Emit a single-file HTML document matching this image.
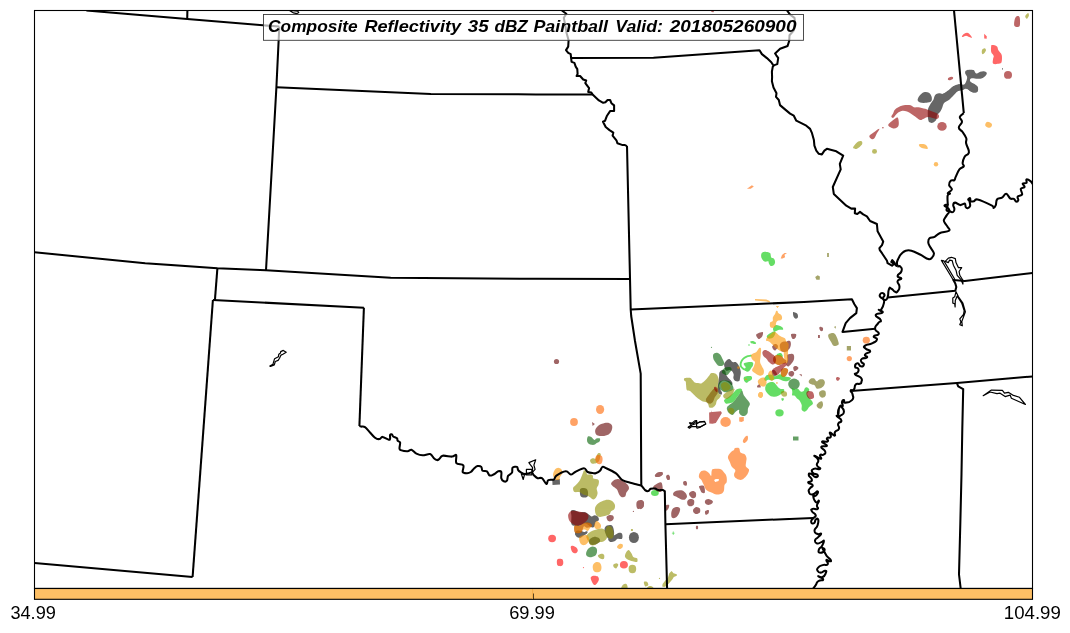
<!DOCTYPE html>
<html><head><meta charset="utf-8"><title>Composite Reflectivity 35 dBZ Paintball</title>
<style>
html,body{margin:0;padding:0;background:#fff;}
body{width:1070px;height:633px;overflow:hidden;font-family:"Liberation Sans",sans-serif;}
svg{display:block;position:absolute;left:0;top:0;}
svg text{font-family:"Liberation Sans",sans-serif;}
.st{fill:none;stroke:#000;stroke-width:2.05;stroke-linejoin:round;stroke-linecap:butt;}
.lk{fill:none;stroke:#000;stroke-width:1.2;stroke-linejoin:round;}
</style></head><body>
<svg width="1070" height="633" viewBox="0 0 1070 633">
<defs><clipPath id="ax"><rect x="34.5" y="10.5" width="998" height="578"/></clipPath></defs>
<rect x="0" y="0" width="1070" height="633" fill="#fff"/>

<g clip-path="url(#ax)">
<g fill="#000000" opacity="0.60">
<path d="M917.6,100.1C917.5,98.9 918.5,97.0 919.5,95.7C920.5,94.4 922.3,92.8 923.9,92.3C925.5,91.8 927.6,92.0 928.9,92.8C930.2,93.6 931.3,95.5 931.7,96.9C932.0,98.4 932.0,100.3 931.2,101.3C930.3,102.3 928.2,102.6 926.4,102.8C924.6,103.0 921.6,103.0 920.1,102.6C918.7,102.1 917.7,101.2 917.6,100.1Z"/>
<path d="M928.3,120.1C927.9,118.0 927.6,112.7 927.9,110.1C928.2,107.5 929.3,106.1 930.2,104.5C931.0,102.8 932.4,101.6 933.3,100.1C934.1,98.5 934.2,96.2 935.2,95.1C936.1,93.9 937.6,93.4 938.9,93.2C940.3,93.0 941.6,94.2 943.3,93.8C945.0,93.4 947.2,91.9 948.9,90.7C950.7,89.4 952.3,87.3 953.9,86.3C955.6,85.3 957.1,84.7 959.0,84.4C960.8,84.1 963.8,85.2 965.2,84.4C966.7,83.7 966.9,80.5 967.7,80.0C968.6,79.6 969.0,81.2 970.2,81.9C971.5,82.6 974.0,83.6 975.2,84.4C976.5,85.3 977.3,85.9 977.7,86.9C978.2,88.0 978.3,89.7 977.7,90.7C977.2,91.6 975.9,92.5 974.6,92.6C973.4,92.7 971.6,92.0 970.2,91.3C968.9,90.6 967.7,88.4 966.5,88.2C965.2,88.0 964.2,89.5 962.7,90.1C961.3,90.6 959.2,90.5 957.7,91.3C956.2,92.1 955.4,93.6 953.9,95.1C952.5,96.5 950.6,98.7 948.9,100.1C947.3,101.4 945.1,101.8 943.9,103.2C942.8,104.6 942.8,106.6 942.0,108.2C941.3,109.8 940.4,111.5 939.5,112.6C938.7,113.7 937.6,114.0 937.0,115.1C936.5,116.3 937.0,118.2 936.4,119.5C935.8,120.7 934.3,122.1 933.3,122.6C932.2,123.1 931.0,123.0 930.2,122.6C929.3,122.2 928.6,122.2 928.3,120.1Z"/>
<path d="M945.6,92.3C947.2,91.2 948.1,90.5 949.3,89.5C950.6,88.5 951.7,87.1 953.1,86.3C954.5,85.4 956.2,84.6 957.8,84.4C959.3,84.2 961.3,84.9 962.4,84.9C963.6,84.8 964.1,84.7 964.8,83.9C965.5,83.1 966.2,81.4 966.6,80.2C967.0,79.0 967.3,78.0 967.1,76.9C966.9,75.8 965.5,74.7 965.2,73.6C965.0,72.6 965.1,71.5 965.7,70.8C966.3,70.2 967.6,69.8 969.0,69.7C970.3,69.6 972.6,69.7 973.6,70.1C974.7,70.5 974.5,71.7 975.0,72.2C975.6,72.8 976.1,73.7 976.9,73.6C977.8,73.6 979.0,72.2 980.2,71.8C981.4,71.4 982.8,71.2 983.9,71.3C985.0,71.5 986.4,72.0 986.7,72.7C987.0,73.4 986.6,74.6 985.8,75.5C985.0,76.4 983.5,77.8 982.1,78.3C980.7,78.9 979.1,78.8 977.4,78.8C975.7,78.8 973.0,78.1 971.8,78.3C970.5,78.6 969.9,79.4 969.9,80.2C969.9,81.0 970.5,81.9 971.8,83.0C973.0,84.1 976.4,85.4 977.4,86.7C978.4,88.1 978.2,90.0 977.9,90.9C977.5,91.9 976.5,92.4 975.5,92.5C974.5,92.7 973.2,92.4 971.8,91.9C970.4,91.3 968.3,89.6 967.1,89.1C965.9,88.5 965.2,88.4 964.3,88.6C963.4,88.8 962.7,89.5 961.5,90.0C960.2,90.5 958.1,90.7 956.8,91.4C955.6,92.1 955.0,93.3 954.0,94.2C953.1,95.1 952.1,96.1 951.2,97.0C950.3,97.9 950.0,99.3 948.4,99.8C946.9,100.3 943.3,100.4 941.9,99.8C940.5,99.2 939.4,97.3 940.0,96.1C940.6,94.8 944.0,93.4 945.6,92.3Z"/>
<ellipse cx="1002.5" cy="68.9" rx="0.5" ry="0.8"/>
<path d="M793.1,312.1C793.4,311.5 794.4,312.3 795.1,312.6C795.9,312.9 797.0,313.2 797.5,314.0C797.9,314.8 798.2,316.5 797.9,317.3C797.7,318.1 796.6,318.8 795.9,318.7C795.1,318.5 793.9,317.4 793.5,316.4C793.0,315.3 792.8,312.8 793.1,312.1Z"/>
<path d="M724.2,363.8C724.6,362.6 726.1,360.9 727.0,360.1C727.9,359.3 728.9,358.8 729.8,359.2C730.7,359.5 731.5,361.4 732.6,362.0C733.7,362.5 735.3,361.7 736.4,362.4C737.4,363.1 738.4,364.6 739.2,366.2C739.9,367.7 740.7,369.9 740.8,371.8C741.0,373.6 740.4,375.8 740.1,377.4C739.8,378.9 739.9,380.5 739.2,381.1C738.4,381.7 736.4,381.6 735.4,381.1C734.5,380.7 733.6,379.4 733.4,378.3C733.1,377.2 733.9,375.7 733.7,374.6C733.5,373.4 732.8,372.1 732.1,371.3C731.5,370.5 730.8,370.0 729.8,369.9C728.8,369.8 726.9,371.2 726.1,370.8C725.2,370.5 725.0,368.7 724.7,367.6C724.4,366.4 723.8,365.1 724.2,363.8Z"/>
<path d="M719.5,372.2C720.1,371.2 721.4,370.1 722.3,369.9C723.3,369.7 724.5,370.1 725.1,370.8C725.8,371.6 725.6,373.5 726.1,374.6C726.5,375.7 727.2,376.4 727.9,377.4C728.7,378.3 730.0,379.3 730.7,380.2C731.5,381.1 732.3,382.1 732.4,383.0C732.6,383.8 732.4,385.5 731.7,385.3C730.9,385.2 729.2,382.8 727.9,382.1C726.7,381.3 725.4,380.7 724.2,380.7C723.0,380.7 721.8,381.0 720.9,382.1C720.1,383.1 718.9,385.0 719.1,386.7C719.2,388.4 721.5,391.0 721.9,392.3C722.2,393.7 721.8,394.5 721.2,394.7C720.7,394.8 719.2,394.1 718.6,393.3C718.0,392.4 717.7,391.4 717.7,389.5C717.6,387.7 718.2,384.2 718.4,382.1C718.6,379.9 718.9,378.1 719.1,376.4C719.3,374.8 719.0,373.3 719.5,372.2Z"/>
<path d="M552.3,480.1L559.8,478.9L560.0,484.5L552.5,484.9Z"/>
<path d="M580.1,489.3C580.5,488.0 582.0,488.0 583.1,487.9C584.2,487.9 586.0,488.2 586.8,488.9C587.7,489.6 587.8,490.9 588.0,492.1C588.1,493.4 588.2,495.5 587.6,496.4C586.9,497.3 585.2,497.6 584.0,497.6C582.9,497.5 581.1,497.4 580.5,496.1C579.8,494.7 579.7,490.7 580.1,489.3Z"/>
<path d="M571.4,516.0C571.3,513.8 570.6,511.8 571.0,510.8C571.3,509.9 572.4,509.9 573.8,510.1C575.2,510.3 577.5,511.9 579.4,512.2C581.2,512.6 583.5,511.9 585.0,512.2C586.5,512.6 587.2,513.4 588.2,514.1C589.3,514.8 590.4,516.2 591.5,516.4C592.6,516.7 593.7,515.2 594.8,515.3C595.9,515.4 597.4,516.1 598.1,516.9C598.7,517.7 599.2,519.3 598.8,520.2C598.4,521.0 596.5,521.0 595.7,522.1C595.0,523.1 595.0,525.9 594.3,526.7C593.6,527.6 592.8,527.7 591.5,527.2C590.3,526.7 588.2,524.5 586.8,523.9C585.4,523.4 584.3,523.6 583.1,523.9C581.9,524.2 580.8,525.5 579.4,525.8C578.0,526.1 576.0,526.1 574.7,525.8C573.4,525.5 572.0,525.6 571.4,523.9C570.9,522.3 571.5,518.2 571.4,516.0Z"/>
<path d="M575.2,532.3C575.5,531.6 576.5,530.7 577.5,530.5C578.5,530.2 580.0,530.6 581.2,530.9C582.5,531.2 584.0,531.9 585.0,532.3C585.9,532.8 587.2,533.3 586.8,533.7C586.5,534.2 584.0,534.5 583.1,535.1C582.2,535.8 582.1,537.1 581.2,537.5C580.4,537.8 578.9,537.6 578.0,537.2C577.0,536.8 576.1,536.0 575.6,535.1C575.2,534.3 574.8,533.1 575.2,532.3Z"/>
<ellipse cx="633.9" cy="537.5" rx="5.0" ry="5.6"/>
<path d="M608.3,538.8C608.9,537.7 612.1,536.6 613.9,535.6C615.7,534.6 617.5,533.1 618.9,532.8C620.3,532.5 621.5,532.8 622.0,533.8C622.6,534.8 622.8,537.9 622.0,538.8C621.3,539.6 618.9,538.4 617.6,538.8C616.4,539.2 615.8,540.8 614.5,541.3C613.3,541.8 611.2,542.3 610.1,541.9C609.1,541.5 607.6,539.8 608.3,538.8Z"/>
<path d="M589.5,539.4C590.2,538.4 592.3,537.1 593.9,536.9C595.4,536.7 597.8,537.4 598.9,538.1C599.9,538.9 600.4,540.3 600.1,541.3C599.8,542.2 598.2,543.2 597.0,543.8C595.7,544.4 593.9,545.1 592.6,545.0C591.3,544.9 590.0,544.1 589.5,543.2C588.9,542.2 588.7,540.4 589.5,539.4Z"/>
<path d="M604.5,529.4C604.5,527.5 605.7,526.3 607.0,525.6C608.3,525.0 610.9,524.8 612.0,525.6C613.2,526.5 613.6,528.8 613.9,530.6C614.2,532.5 614.3,535.5 613.6,536.9C613.0,538.3 611.2,539.0 610.1,539.0C609.0,539.0 607.9,538.5 607.0,536.9C606.1,535.3 604.5,531.3 604.5,529.4Z"/>
<path d="M575.1,533.8C575.2,532.9 576.3,532.1 577.6,531.9C578.8,531.7 581.1,532.9 582.6,532.8C584.0,532.7 585.5,531.3 586.3,531.3C587.2,531.2 588.0,531.8 587.6,532.5C587.2,533.2 585.1,534.8 583.8,535.6C582.6,536.5 581.2,537.3 580.1,537.5C578.9,537.7 577.8,537.5 576.9,536.9C576.1,536.3 575.0,534.6 575.1,533.8Z"/>
</g>
<g fill="#610000" opacity="0.60">
<path d="M756.1,334.8C756.4,333.7 759.0,332.9 760.1,332.5C761.2,332.1 762.5,331.7 762.9,332.2C763.3,332.8 762.9,334.9 762.4,336.0C762.0,337.0 760.8,338.0 760.1,338.5C759.4,339.0 758.9,339.4 758.2,338.8C757.6,338.2 755.8,335.8 756.1,334.8Z"/>
<path d="M791.2,334.1C791.9,333.5 795.1,333.6 795.9,334.1C796.7,334.6 796.2,336.1 795.9,336.9C795.5,337.7 794.4,338.9 793.7,339.1C793.1,339.2 792.3,338.7 791.9,337.9C791.4,337.0 790.5,334.7 791.2,334.1Z"/>
<path d="M786.7,341.6C787.3,340.7 789.3,340.7 790.0,341.1C790.7,341.5 790.9,342.8 790.9,343.9C790.9,345.0 790.5,346.7 790.0,347.7C789.5,348.6 788.7,349.7 788.1,349.5C787.6,349.4 787.0,348.1 786.7,346.7C786.5,345.4 786.2,342.5 786.7,341.6Z"/>
<path d="M772.2,346.3C772.5,345.8 773.5,345.2 774.1,345.8C774.7,346.3 775.9,348.8 776.0,349.5C776.1,350.3 775.1,350.6 774.6,350.5C774.0,350.3 773.1,349.3 772.7,348.6C772.3,347.9 772.0,346.7 772.2,346.3Z"/>
<path d="M819.3,327.6C819.4,326.9 820.7,326.8 821.3,326.9C821.9,327.0 822.8,327.4 823.0,328.0C823.2,328.7 823.1,330.2 822.7,330.7C822.3,331.1 821.0,331.4 820.4,330.8C819.8,330.3 819.1,328.2 819.3,327.6Z"/>
<path d="M818.0,335.0L819.9,335.0L819.9,337.9L818.0,337.9Z"/>
<path d="M780.2,343.9C780.8,342.9 782.7,341.8 783.9,341.6C785.2,341.4 786.9,341.7 787.7,342.5C788.4,343.4 788.6,345.3 788.6,346.7C788.6,348.1 788.4,350.1 787.7,350.9C786.9,351.8 785.0,351.9 783.9,351.9C782.8,351.9 781.8,351.6 781.1,350.9C780.5,350.2 780.2,348.8 780.0,347.7C779.8,346.5 779.5,344.9 780.2,343.9Z"/>
<path d="M773.2,344.9C773.6,344.2 775.2,343.8 776.0,343.9C776.8,344.1 777.6,345.0 777.9,345.8C778.1,346.6 777.8,348.0 777.4,348.6C777.0,349.2 776.1,349.7 775.5,349.5C774.9,349.4 774.0,348.4 773.6,347.7C773.3,346.9 772.8,345.5 773.2,344.9Z"/>
<path d="M787.2,355.1C787.7,354.1 789.4,354.0 790.5,353.9C791.6,353.8 793.1,353.8 793.7,354.7C794.3,355.6 794.3,357.9 794.0,359.3C793.7,360.7 792.8,361.9 791.9,363.1C791.0,364.3 789.5,366.0 788.6,366.4C787.7,366.7 786.5,366.0 786.3,365.0C786.0,363.9 787.0,361.9 787.2,360.3C787.4,358.6 786.7,356.2 787.2,355.1Z"/>
<path d="M793.3,367.3C793.6,366.5 795.2,366.0 796.1,366.1C796.9,366.2 798.3,367.1 798.4,367.8C798.6,368.4 797.7,369.5 797.0,370.1C796.3,370.6 794.8,371.5 794.2,371.0C793.6,370.6 793.0,368.1 793.3,367.3Z"/>
<path d="M789.1,372.0C789.7,371.3 791.5,370.9 792.3,371.0C793.2,371.2 794.0,372.1 794.2,372.9C794.4,373.7 793.8,375.1 793.3,375.7C792.7,376.3 791.7,376.8 790.9,376.6C790.2,376.5 788.9,375.5 788.6,374.8C788.3,374.0 788.4,372.6 789.1,372.0Z"/>
<path d="M799.1,374.1L801.9,374.5L801.7,376.6Z"/>
<path d="M757.0,386.0L759.2,384.1L760.7,386.0L760.7,387.6L757.3,387.6Z"/>
<path d="M773.2,358.4C773.5,357.4 774.5,356.2 775.5,355.6C776.5,355.1 778.2,355.0 779.3,355.1C780.3,355.3 781.3,355.9 782.1,356.5C782.8,357.2 783.2,358.3 783.9,358.9C784.6,359.5 786.0,359.6 786.3,360.3C786.6,361.0 786.5,362.5 785.8,363.1C785.1,363.7 783.1,363.7 782.1,364.0C781.0,364.3 780.3,365.0 779.3,365.0C778.2,365.0 776.9,364.6 776.0,364.0C775.0,363.5 774.1,362.6 773.6,361.7C773.2,360.7 772.9,359.4 773.2,358.4Z"/>
<path d="M771.8,371.0C772.1,370.2 773.3,369.9 774.1,370.1C774.9,370.3 776.0,371.7 776.4,372.4C776.9,373.2 777.2,374.1 776.9,374.8C776.6,375.4 775.4,376.2 774.6,376.2C773.8,376.2 772.7,375.6 772.2,374.8C771.8,373.9 771.5,371.8 771.8,371.0Z"/>
<path d="M781.1,370.1C781.6,368.9 782.9,368.5 783.9,368.2C784.9,368.0 786.5,368.2 787.2,368.7C787.9,369.2 788.3,369.9 788.1,371.0C788.0,372.1 787.0,374.2 786.3,375.2C785.5,376.2 784.3,377.1 783.5,377.1C782.6,377.1 781.5,376.4 781.1,375.2C780.7,374.1 780.7,371.3 781.1,370.1Z"/>
<path d="M706.0,399.0C706.4,397.7 708.2,395.8 709.3,394.3C710.3,392.9 711.6,391.2 712.5,390.1C713.5,389.1 714.1,388.3 714.9,388.3C715.6,388.2 716.7,388.9 717.2,389.7C717.7,390.5 718.1,391.7 717.7,392.9C717.3,394.2 715.6,395.7 714.9,397.1C714.1,398.6 713.8,400.7 713.0,401.8C712.2,402.9 711.2,403.6 710.2,403.7C709.2,403.8 707.6,403.1 706.9,402.3C706.2,401.5 705.6,400.3 706.0,399.0Z"/>
<path d="M655.0,475.0C655.4,474.3 657.0,473.0 658.2,472.5C659.3,472.0 661.2,471.9 661.9,472.3C662.6,472.6 663.0,473.7 662.5,474.4C662.1,475.1 660.6,476.1 659.4,476.5C658.3,476.9 656.4,477.1 655.7,476.9C654.9,476.6 654.6,475.7 655.0,475.0Z"/>
<path d="M666.3,476.3C666.5,475.6 667.6,474.9 668.2,475.0C668.8,475.1 669.6,476.1 669.8,476.9C670.0,477.7 669.9,479.4 669.4,479.8C669.0,480.1 667.4,479.6 666.9,479.0C666.4,478.4 666.1,476.9 666.3,476.3Z"/>
<path d="M683.2,481.9C683.5,481.2 685.1,480.8 685.7,481.0C686.3,481.2 686.9,482.4 687.0,483.1C687.1,483.9 686.9,485.3 686.3,485.7C685.8,486.0 684.4,485.7 683.8,485.0C683.3,484.4 682.9,482.6 683.2,481.9Z"/>
<path d="M653.1,486.9C653.7,485.8 656.8,483.9 658.2,483.1C659.5,482.4 660.6,482.0 661.3,482.5C662.0,483.0 662.4,484.9 662.5,486.3C662.7,487.6 662.9,489.7 662.3,490.7C661.7,491.6 660.0,492.0 658.8,491.9C657.6,491.8 656.0,490.9 655.0,490.0C654.1,489.2 652.6,488.1 653.1,486.9Z"/>
<path d="M673.2,493.2C673.6,492.3 675.0,491.1 676.3,490.7C677.7,490.2 679.9,490.0 681.3,490.3C682.8,490.6 684.1,491.5 685.1,492.5C686.0,493.5 687.0,495.2 687.0,496.3C687.0,497.4 686.0,498.9 685.1,499.4C684.1,500.0 682.7,499.8 681.3,499.4C680.0,499.0 678.2,497.6 676.9,496.9C675.7,496.3 674.4,496.3 673.8,495.7C673.2,495.0 672.8,494.0 673.2,493.2Z"/>
<path d="M689.1,493.2C689.5,492.3 691.5,491.1 692.6,491.0C693.7,490.9 695.2,491.6 695.7,492.5C696.3,493.5 696.3,496.0 695.7,496.9C695.2,497.9 693.5,498.3 692.6,498.2C691.7,498.1 690.7,497.1 690.1,496.3C689.5,495.5 688.7,494.0 689.1,493.2Z"/>
<path d="M699.1,486.3C699.7,485.7 702.9,485.0 703.9,486.0C704.8,487.1 705.2,491.4 704.9,492.5C704.6,493.7 702.8,493.3 702.0,492.8C701.2,492.3 700.6,490.5 700.1,489.4C699.6,488.3 698.5,486.8 699.1,486.3Z"/>
<path d="M687.3,501.3C687.7,500.3 689.0,499.3 690.1,499.1C691.2,498.8 693.2,499.2 693.9,500.1C694.5,501.0 694.4,503.4 693.9,504.4C693.3,505.5 691.7,506.2 690.7,506.3C689.7,506.4 688.4,505.9 687.8,505.1C687.3,504.2 687.0,502.3 687.3,501.3Z"/>
<path d="M705.1,500.7C705.6,499.9 707.0,499.0 708.3,499.1C709.5,499.1 712.0,500.3 712.6,501.1C713.3,501.8 712.7,502.9 712.0,503.6C711.3,504.2 709.4,505.1 708.3,505.1C707.1,505.1 705.9,504.3 705.4,503.6C704.9,502.8 704.6,501.4 705.1,500.7Z"/>
<path d="M693.2,509.4C693.7,508.5 695.2,507.1 696.4,506.9C697.5,506.8 699.3,507.6 699.9,508.6C700.4,509.5 700.4,511.7 699.9,512.6C699.3,513.5 697.4,514.1 696.4,514.1C695.3,514.1 694.1,513.4 693.6,512.6C693.1,511.8 692.8,510.4 693.2,509.4Z"/>
<path d="M705.1,511.3C705.6,510.5 708.0,509.8 708.6,510.1C709.2,510.4 709.1,512.4 708.6,513.2C708.1,514.0 706.3,515.1 705.7,514.8C705.2,514.5 704.6,512.1 705.1,511.3Z"/>
<path d="M671.3,512.6C671.5,511.0 672.1,509.1 673.2,508.2C674.2,507.3 676.4,506.8 677.6,506.9C678.7,507.0 679.9,507.7 680.1,508.8C680.3,510.0 679.6,512.4 678.8,513.8C678.1,515.3 676.8,517.0 675.7,517.6C674.5,518.2 672.7,518.4 671.9,517.6C671.2,516.8 671.1,514.1 671.3,512.6Z"/>
<path d="M665.7,505.7C666.1,504.8 668.6,504.6 669.1,505.1C669.5,505.5 669.0,507.3 668.6,508.2C668.1,509.1 666.8,511.1 666.3,510.7C665.8,510.3 665.2,506.6 665.7,505.7Z"/>
<path d="M640.0,500.7C640.4,499.3 641.8,500.2 642.5,500.7C643.2,501.2 643.9,502.4 644.0,503.6C644.1,504.7 643.8,506.7 643.1,507.6C642.5,508.4 640.5,510.0 640.0,508.8C639.5,507.7 639.6,502.0 640.0,500.7Z"/>
<path d="M696.1,526.1C696.4,525.6 697.6,525.6 697.9,526.1C698.2,526.6 698.2,528.4 697.9,528.9C697.6,529.3 696.4,529.3 696.1,528.9C695.8,528.4 695.8,526.6 696.1,526.1Z"/>
<ellipse cx="556.5" cy="361.5" rx="2.6" ry="2.6"/>
<path d="M592.0,422.0L594.9,423.9L592.6,426.1Z"/>
<path d="M595.1,431.3C595.1,429.9 595.8,428.1 597.0,426.9C598.1,425.6 600.1,424.4 602.0,423.8C603.9,423.1 606.6,422.4 608.3,422.8C609.9,423.1 611.4,424.3 612.0,425.6C612.6,427.0 612.2,429.2 611.6,430.6C611.1,432.1 610.1,433.5 608.6,434.4C607.1,435.3 604.6,435.9 602.6,436.0C600.7,436.2 598.2,436.1 597.0,435.3C595.7,434.5 595.1,432.7 595.1,431.3Z"/>
<path d="M611.1,483.9C611.0,482.8 612.2,481.5 613.3,480.7C614.3,479.9 616.3,479.2 617.6,479.1C619.0,479.0 620.2,479.5 621.4,480.1C622.7,480.7 624.0,481.7 625.2,482.6C626.3,483.6 627.7,484.7 628.3,485.7C628.9,486.8 629.2,487.7 628.9,488.9C628.6,490.0 627.0,491.4 626.4,492.6C625.8,493.9 626.0,495.7 625.2,496.4C624.3,497.1 622.4,497.4 621.4,497.0C620.4,496.6 619.6,495.1 618.9,493.9C618.2,492.6 617.9,490.7 617.0,489.5C616.2,488.4 614.9,487.9 613.9,487.0C612.9,486.1 611.2,484.9 611.1,483.9Z"/>
<path d="M655.2,475.1C655.4,474.4 656.6,473.1 657.7,472.6C658.9,472.1 661.3,471.7 662.1,472.0C662.9,472.3 663.0,473.7 662.7,474.5C662.4,475.2 661.3,475.9 660.2,476.4C659.2,476.8 657.3,477.2 656.5,477.0C655.6,476.8 655.0,475.8 655.2,475.1Z"/>
<path d="M666.5,475.7C666.7,474.9 668.5,474.6 669.0,475.1C669.5,475.6 669.9,478.1 669.6,478.9C669.4,479.7 668.0,480.4 667.5,479.9C667.0,479.3 666.2,476.5 666.5,475.7Z"/>
<path d="M636.4,503.4C636.5,502.0 637.4,501.1 638.2,500.6C639.1,500.0 640.6,499.9 641.5,500.1C642.4,500.3 643.5,501.0 643.9,502.0C644.2,503.0 644.1,505.1 643.7,506.2C643.2,507.3 642.1,508.1 641.0,508.5C640.0,508.9 638.1,509.4 637.3,508.5C636.5,507.6 636.2,504.7 636.4,503.4Z"/>
<path d="M606.5,516.9C606.7,515.9 608.7,515.3 609.7,515.0C610.8,514.8 612.2,515.0 612.8,515.5C613.5,516.1 614.0,517.4 613.8,518.3C613.6,519.3 612.5,520.7 611.6,521.1C610.7,521.6 609.2,521.8 608.3,521.1C607.5,520.4 606.2,517.9 606.5,516.9Z"/>
<ellipse cx="633.4" cy="511.4" rx="0.6" ry="0.6"/>
<path d="M574.2,526.7C574.5,525.6 575.2,525.5 576.1,525.3C577.0,525.2 578.2,526.1 579.4,525.8C580.5,525.5 581.9,524.0 583.1,523.5C584.3,522.9 585.6,522.5 586.8,522.5C588.1,522.5 589.7,522.9 590.6,523.5C591.4,524.0 592.1,525.2 592.0,525.8C591.9,526.4 591.0,526.9 590.1,527.2C589.3,527.5 587.9,527.8 586.8,527.7C585.8,527.5 584.7,526.0 584.0,526.3C583.3,526.6 583.1,528.5 582.6,529.5C582.2,530.6 582.1,531.9 581.2,532.5C580.4,533.1 578.6,533.4 577.5,533.3C576.4,533.2 575.2,533.0 574.7,531.9C574.1,530.8 574.0,527.8 574.2,526.7Z"/>
</g>
<g fill="#006100" opacity="0.60">
<ellipse cx="794.0" cy="384.1" rx="5.8" ry="5.6"/>
<path d="M713.0,356.4C713.0,355.3 713.1,354.4 713.9,353.8C714.7,353.3 716.6,352.7 717.7,352.9C718.8,353.1 719.6,353.8 720.5,355.0C721.3,356.1 722.2,358.2 722.8,359.6C723.4,361.0 724.3,362.4 724.2,363.4C724.1,364.4 723.3,365.3 722.3,365.7C721.4,366.1 719.6,366.1 718.6,365.7C717.6,365.3 717.0,364.3 716.3,363.4C715.5,362.4 714.5,361.3 713.9,360.1C713.4,358.9 713.0,357.4 713.0,356.4Z"/>
<path d="M721.9,371.8C722.1,370.7 723.8,368.3 725.1,367.6C726.5,366.8 728.7,366.8 729.8,367.1C730.9,367.4 731.7,368.6 731.7,369.4C731.7,370.3 730.6,371.3 729.8,372.2C729.0,373.2 728.0,374.7 727.0,375.0C726.0,375.4 724.6,374.7 723.7,374.1C722.9,373.6 721.6,372.9 721.9,371.8Z"/>
<path d="M718.6,383.9C718.9,382.7 719.8,381.7 720.9,381.1C722.0,380.5 723.7,380.1 725.1,380.2C726.6,380.3 728.6,380.8 729.8,381.6C731.0,382.4 731.8,383.7 732.4,384.9C733.1,386.0 733.7,387.7 733.6,388.6C733.4,389.5 732.9,389.8 731.7,390.5C730.4,391.1 727.6,392.3 726.1,392.3C724.5,392.4 723.5,391.6 722.3,390.9C721.2,390.3 719.7,389.8 719.1,388.6C718.4,387.4 718.3,385.2 718.6,383.9Z"/>
<ellipse cx="711.5" cy="347.3" rx="0.6" ry="0.6"/>
<path d="M727.0,407.4C727.4,406.5 728.7,405.6 729.8,404.6C730.9,403.7 732.5,402.9 733.6,401.8C734.6,400.7 735.4,399.3 736.4,398.1C737.3,396.8 738.2,395.6 739.2,394.3C740.1,393.1 741.2,390.5 742.0,390.6C742.7,390.8 743.1,393.9 743.8,395.3C744.6,396.7 745.6,397.6 746.6,399.0C747.6,400.4 749.7,402.1 749.9,403.7C750.1,405.2 748.4,406.8 748.0,408.4C747.6,409.9 748.1,411.8 747.6,413.0C747.0,414.3 745.8,415.5 744.8,415.8C743.8,416.2 742.4,415.8 741.5,415.4C740.6,414.9 739.6,414.0 739.2,413.0C738.7,412.1 739.6,409.9 739.0,409.8C738.3,409.6 736.5,411.2 735.4,412.1C734.4,413.0 733.7,414.8 732.6,414.9C731.5,415.1 729.8,413.8 728.9,413.0C728.0,412.3 727.5,411.2 727.2,410.2C726.9,409.3 726.6,408.4 727.0,407.4Z"/>
<path d="M793.0,436.5L798.5,436.5L798.5,440.5L793.0,440.5Z"/>
<path d="M587.0,439.4C587.1,438.4 587.5,436.7 588.2,436.3C588.9,435.9 590.3,436.3 591.3,436.9C592.4,437.5 593.6,439.8 594.5,440.0C595.3,440.3 595.5,438.8 596.4,438.5C597.3,438.3 599.3,438.0 599.9,438.5C600.4,439.0 600.1,440.8 599.5,441.5C598.9,442.3 597.3,442.6 596.4,443.2C595.5,443.7 595.1,444.6 594.1,444.8C593.1,445.0 591.2,444.8 590.1,444.4C589.0,444.0 588.1,443.4 587.6,442.5C587.1,441.7 586.9,440.5 587.0,439.4Z"/>
<path d="M586.1,553.2C586.3,552.0 587.1,549.9 588.2,548.8C589.3,547.7 591.2,546.6 592.6,546.5C594.0,546.4 595.6,547.3 596.4,548.2C597.1,549.1 597.2,550.7 597.0,551.9C596.8,553.2 596.3,554.8 595.1,555.7C594.0,556.6 591.5,557.2 590.1,557.3C588.7,557.4 587.6,556.7 587.0,556.1C586.3,555.4 585.9,554.4 586.1,553.2Z"/>
</g>
<g fill="#00c800" opacity="0.60">
<path d="M761.1,255.7C761.1,254.6 761.4,253.1 762.3,252.5C763.2,251.9 765.0,251.8 766.3,251.9C767.6,252.0 769.2,252.2 770.1,253.1C770.9,254.1 770.7,256.6 771.3,257.5C772.0,258.4 773.2,257.8 773.8,258.5C774.5,259.3 775.1,260.8 775.1,261.9C775.1,263.0 774.6,264.4 773.8,265.0C773.1,265.7 771.5,266.4 770.7,266.0C769.9,265.7 769.2,264.0 768.8,263.2C768.4,262.4 768.9,261.6 768.2,261.3C767.5,261.0 765.5,262.0 764.4,261.5C763.4,261.1 762.5,259.8 761.9,258.8C761.4,257.8 761.0,256.7 761.1,255.7Z"/>
<path d="M773.2,328.0C773.5,327.1 774.5,325.6 775.5,325.2C776.5,324.8 778.1,325.3 779.3,325.7C780.4,326.1 781.9,326.9 782.5,327.6C783.1,328.2 783.5,329.4 783.0,329.7C782.4,330.1 780.5,329.5 779.3,329.7C778.0,330.0 776.5,331.1 775.5,331.3C774.5,331.5 773.8,331.4 773.5,330.8C773.1,330.3 772.8,329.0 773.2,328.0Z"/>
<path d="M767.1,335.5C767.8,334.5 770.5,332.9 771.8,332.2C773.1,331.5 774.5,331.1 775.0,331.3C775.6,331.5 775.6,332.7 775.3,333.6C775.1,334.6 774.4,336.1 773.6,336.9C772.9,337.7 771.9,338.3 770.8,338.5C769.8,338.7 768.2,338.8 767.6,338.3C766.9,337.8 766.4,336.5 767.1,335.5Z"/>
<path d="M750.1,341.6C750.3,341.2 752.1,340.8 753.1,340.9C754.0,341.1 755.5,342.0 755.9,342.5C756.3,343.0 756.1,343.8 755.4,343.9C754.7,344.1 752.6,343.8 751.7,343.5C750.8,343.1 749.9,342.0 750.1,341.6Z"/>
<ellipse cx="749.0" cy="345.0" rx="0.8" ry="0.8"/>
<path d="M743.8,363.4C744.4,362.9 746.1,362.4 747.6,362.2C749.0,362.1 751.8,361.9 752.7,362.4C753.6,362.9 753.2,364.3 753.0,365.2C752.8,366.2 751.9,367.1 751.3,368.0C750.7,369.0 750.1,370.2 749.4,370.8C748.7,371.5 747.9,372.0 747.1,371.8C746.3,371.6 745.0,370.5 744.8,369.7C744.5,368.9 745.8,367.9 745.7,367.1C745.6,366.4 744.6,365.9 744.3,365.2C744.0,364.6 743.3,363.9 743.8,363.4Z"/>
<path d="M750.8,355.7C750.1,355.9 748.0,356.1 746.6,356.6C745.3,357.2 743.9,358.1 742.9,359.2C741.9,360.2 741.2,361.7 740.8,362.9C740.5,364.1 740.5,365.2 740.8,366.2C741.2,367.1 742.1,367.9 742.9,368.5C743.7,369.2 745.4,369.8 745.9,370.1" fill="none" stroke="#00cb00" stroke-width="1.9" stroke-linecap="round"/>
<path d="M744.2,378.0C744.7,377.3 746.4,376.9 747.5,376.6C748.6,376.3 750.0,375.9 750.7,376.2C751.5,376.4 752.1,377.4 752.1,378.0C752.1,378.7 751.4,379.4 750.7,379.9C750.1,380.4 749.0,380.4 748.4,380.8C747.8,381.3 747.6,382.6 747.0,382.7C746.4,382.8 745.1,382.1 744.7,381.3C744.2,380.5 743.7,378.8 744.2,378.0Z"/>
<path d="M764.5,378.0C764.9,377.2 766.0,375.6 767.1,375.0C768.2,374.5 769.6,374.3 770.8,374.5C772.1,374.7 773.5,376.0 774.6,376.2C775.7,376.3 776.4,375.5 777.4,375.2C778.3,374.9 779.1,374.1 780.2,374.3C781.3,374.5 782.5,375.7 783.9,376.2C785.3,376.6 787.4,376.8 788.6,377.1C789.8,377.4 790.8,377.6 790.9,378.0C791.1,378.5 790.4,379.4 789.5,379.9C788.7,380.5 787.0,381.2 785.8,381.3C784.5,381.4 783.3,380.8 782.1,380.4C780.8,380.0 779.5,379.2 778.3,379.0C777.1,378.8 776.1,378.9 775.0,379.2C774.0,379.4 772.9,380.3 771.8,380.4C770.6,380.5 769.0,379.6 768.0,379.7C767.1,379.8 766.8,380.8 766.2,380.8C765.6,380.9 764.8,380.4 764.5,379.9C764.2,379.4 764.0,378.8 764.5,378.0Z"/>
<path d="M765.2,387.4C765.4,386.2 765.9,385.0 766.6,384.1C767.4,383.3 768.7,382.6 769.9,382.2C771.1,381.9 772.6,381.9 773.6,382.2C774.7,382.6 775.3,383.8 776.0,384.6C776.7,385.4 777.1,386.2 777.9,386.9C778.6,387.6 779.2,388.4 780.2,388.8C781.2,389.2 783.3,388.7 783.9,389.3C784.5,389.8 784.4,391.3 783.9,392.1C783.5,392.8 782.1,393.3 781.1,393.9C780.2,394.5 779.4,395.3 778.3,395.8C777.2,396.3 775.8,396.7 774.6,396.7C773.3,396.8 771.9,396.7 770.8,396.3C769.8,395.8 768.9,394.8 768.0,393.9C767.2,393.1 766.2,392.2 765.7,391.1C765.2,390.0 765.1,388.6 765.2,387.4Z"/>
<path d="M791.9,388.3C792.3,387.9 794.1,389.2 795.1,389.3C796.2,389.3 797.0,388.4 797.9,388.8C798.9,389.2 799.8,391.2 800.7,391.6C801.7,392.0 802.9,391.7 803.6,391.1C804.3,390.5 804.3,388.5 805.0,387.9C805.6,387.2 806.6,387.1 807.3,387.4C808.0,387.6 808.9,388.6 809.2,389.3C809.4,390.0 809.0,390.8 808.7,391.6C808.4,392.4 807.2,392.9 807.3,393.9C807.4,394.9 808.4,396.5 809.2,397.7C809.9,398.8 811.3,399.9 812.0,400.9C812.6,401.9 813.1,403.0 812.9,403.7C812.7,404.5 811.7,405.1 811.0,405.6C810.4,406.2 809.8,406.3 809.2,407.0C808.5,407.7 808.1,409.0 807.3,409.8C806.5,410.6 805.4,411.7 804.5,411.7C803.6,411.7 802.1,410.9 801.7,409.8C801.2,408.7 802.0,406.6 801.7,405.1C801.4,403.7 800.6,402.0 799.8,400.9C799.0,399.8 797.9,399.5 797.0,398.6C796.2,397.7 795.5,396.3 794.7,395.8C793.9,395.2 792.5,396.0 792.1,395.3C791.8,394.7 792.4,393.2 792.3,392.1C792.3,390.9 791.4,388.8 791.9,388.3Z"/>
<path d="M781.1,398.6L783.5,397.9L783.9,400.0L782.1,400.9Z"/>
<path d="M776.9,354.2C777.5,353.7 779.7,352.9 780.7,353.1C781.6,353.2 782.3,354.5 782.5,355.1C782.8,355.8 782.9,356.9 782.1,357.0C781.2,357.2 778.2,356.5 777.4,356.1C776.5,355.6 776.4,354.7 776.9,354.2Z"/>
<path d="M743.8,377.4C744.4,376.6 746.3,376.1 747.6,376.0C748.8,375.8 750.6,375.9 751.3,376.4C752.0,377.0 752.2,378.4 751.8,379.3C751.3,380.1 749.4,381.0 748.5,381.6C747.6,382.1 746.9,382.7 746.2,382.5C745.5,382.4 744.7,381.5 744.3,380.7C743.9,379.8 743.3,378.2 743.8,377.4Z"/>
<path d="M724.2,400.0C724.6,399.3 725.9,398.9 727.0,398.1C728.1,397.3 729.7,396.2 730.7,395.3C731.8,394.3 732.5,393.5 733.6,392.5C734.6,391.5 735.6,389.8 736.8,389.2C738.1,388.6 740.2,388.5 741.0,388.7C741.9,389.0 742.3,389.7 742.0,390.6C741.7,391.5 740.1,393.1 739.2,394.3C738.2,395.6 737.3,396.8 736.4,398.1C735.4,399.3 734.6,401.0 733.6,401.8C732.5,402.7 731.1,402.9 729.8,403.2C728.6,403.5 727.0,403.9 726.1,403.7C725.2,403.5 724.7,402.4 724.4,401.8C724.1,401.2 723.8,400.6 724.2,400.0Z"/>
<ellipse cx="779.5" cy="412.8" rx="4.2" ry="3.6"/>
<ellipse cx="654.9" cy="493.0" rx="3.9" ry="2.9"/>
<path d="M673.3,531.4 v3.6 M671.9,533.2 h2.8" stroke="#00c800" stroke-width="0.7" fill="none"/>
</g>
<g fill="#8f8f00" opacity="0.60">
<path d="M982.1,49.8C982.5,48.9 984.0,48.1 984.7,48.2C985.3,48.3 986.1,49.4 986.0,50.3C985.9,51.2 984.6,53.0 983.9,53.6C983.3,54.1 982.4,54.5 982.1,53.8C981.7,53.2 981.6,50.7 982.1,49.8Z"/>
<path d="M1025.2,16.3C1025.4,15.3 1027.4,13.3 1028.0,13.1C1028.7,13.0 1029.1,14.7 1028.9,15.7C1028.7,16.6 1027.4,18.7 1026.8,18.8C1026.2,18.9 1025.0,17.2 1025.2,16.3Z"/>
<path d="M853.2,146.9C853.9,145.7 856.8,142.4 858.2,141.5C859.6,140.6 861.0,140.8 861.6,141.3C862.2,141.7 862.8,143.1 862.0,144.4C861.2,145.6 858.2,148.1 857.0,148.8C855.7,149.5 855.1,148.8 854.5,148.5C853.9,148.2 852.6,148.1 853.2,146.9Z"/>
<ellipse cx="874.5" cy="151.4" rx="2.5" ry="2.4"/>
<path d="M781.1,392.1C781.5,391.4 783.0,391.0 783.9,391.1C784.9,391.2 786.3,391.7 786.7,392.5C787.2,393.3 787.2,395.1 786.7,395.8C786.3,396.5 784.8,396.8 783.9,396.7C783.1,396.7 782.1,396.1 781.6,395.3C781.1,394.5 780.7,392.8 781.1,392.1Z"/>
<path d="M720.9,384.9C721.2,383.5 723.3,382.2 724.7,382.1C726.0,381.9 727.9,383.0 728.9,383.9C729.9,384.9 730.9,386.6 730.7,387.7C730.6,388.8 729.2,390.0 727.9,390.5C726.7,390.9 724.4,391.4 723.3,390.5C722.1,389.5 720.7,386.3 720.9,384.9Z"/>
<path d="M684.0,378.6C684.2,378.2 684.8,378.0 685.4,377.9C686.0,377.8 686.9,377.8 687.8,377.8C688.6,377.8 689.6,377.6 690.4,377.9C691.2,378.2 691.7,379.1 692.4,379.9C693.2,380.6 693.8,381.9 694.8,382.5C695.7,383.0 696.9,383.0 698.0,383.1C699.1,383.3 700.1,383.9 701.3,383.4C702.6,382.9 704.2,381.5 705.5,380.1C706.8,378.8 708.2,376.6 709.3,375.5C710.3,374.3 710.5,373.4 711.6,373.1C712.7,372.9 714.7,373.1 715.8,373.8C716.9,374.5 717.7,376.1 718.1,377.3C718.6,378.6 718.6,379.8 718.6,381.1C718.6,382.4 717.9,383.0 717.9,385.0C717.9,387.0 718.1,391.2 718.6,392.9C719.1,394.7 720.8,394.4 720.9,395.3C721.1,396.1 720.2,397.1 719.5,398.1C718.8,399.0 717.4,399.8 716.7,400.9C716.1,402.0 716.4,403.5 715.8,404.6C715.2,405.7 714.1,407.0 713.0,407.4C711.9,407.9 710.0,407.9 709.3,407.4C708.5,407.0 708.8,405.5 708.3,404.6C707.9,403.8 707.5,402.9 706.4,402.3C705.4,401.7 703.2,401.5 701.8,400.9C700.4,400.3 699.4,399.6 698.0,398.6C696.6,397.5 694.7,395.6 693.4,394.3C692.0,393.1 691.2,391.8 690.1,391.1C689.0,390.4 687.5,391.2 686.8,390.1C686.2,389.1 686.2,386.2 686.1,385.0C685.9,383.8 686.0,383.7 685.9,383.1C685.8,382.5 686.0,381.9 685.7,381.4C685.4,381.0 684.5,381.0 684.2,380.5C683.9,380.0 683.8,379.1 684.0,378.6Z"/>
<path d="M723.3,395.3C723.7,394.4 724.8,393.3 726.1,392.5C727.3,391.6 729.3,390.8 730.7,390.1C732.1,389.5 734.0,388.4 734.5,388.7C735.0,389.0 734.0,390.9 733.6,392.0C733.1,393.1 732.5,394.3 731.7,395.3C730.9,396.3 729.8,397.5 728.9,398.1C727.9,398.7 726.9,399.1 726.1,399.0C725.2,398.9 724.2,398.2 723.7,397.6C723.3,397.0 722.9,396.1 723.3,395.3Z"/>
<path d="M727.9,409.8C727.9,408.8 729.0,408.1 729.8,407.9C730.7,407.7 732.3,407.8 733.1,408.4C733.8,408.9 734.4,410.2 734.3,411.2C734.2,412.1 733.4,413.6 732.6,414.0C731.9,414.4 730.6,414.2 729.8,413.5C729.0,412.8 727.9,410.7 727.9,409.8Z"/>
<path d="M590.1,460.1C590.3,459.2 591.7,458.4 592.6,458.2C593.5,458.0 595.1,459.1 595.7,458.8C596.4,458.5 595.9,457.3 596.4,456.3C596.8,455.4 597.5,453.6 598.2,453.2C599.0,452.8 600.4,453.3 600.7,454.1C601.1,454.8 600.4,456.4 600.1,457.6C599.8,458.8 599.7,460.3 598.9,461.3C598.0,462.3 596.4,463.3 595.1,463.6C593.9,463.9 592.2,463.8 591.3,463.2C590.5,462.6 589.9,460.9 590.1,460.1Z"/>
<path d="M573.3,487.5C573.8,486.5 575.1,485.8 576.1,484.7C577.1,483.6 578.5,482.2 579.4,480.9C580.2,479.7 580.6,478.6 581.2,477.2C581.9,475.8 582.6,473.7 583.1,472.5C583.6,471.4 583.6,470.4 584.0,470.2C584.5,470.0 585.4,470.4 585.9,471.1C586.5,471.8 586.5,473.9 587.3,474.4C588.1,474.9 589.6,474.0 590.6,474.2C591.5,474.4 592.4,475.1 592.9,475.8C593.4,476.5 592.4,477.9 593.4,478.6C594.3,479.3 597.7,479.0 598.5,480.0C599.4,481.0 598.8,483.3 598.5,484.7C598.2,486.1 596.8,487.0 596.7,488.4C596.5,489.8 597.7,491.6 597.6,493.1C597.5,494.6 596.9,496.2 596.2,497.3C595.5,498.4 594.4,499.6 593.4,499.6C592.4,499.6 591.2,498.0 590.1,497.3C589.0,496.6 588.0,495.9 586.8,495.4C585.7,495.0 584.3,495.0 583.1,494.5C581.9,493.9 580.8,492.5 579.4,492.1C578.0,491.8 575.7,492.5 574.7,492.1C573.7,491.8 573.5,491.1 573.3,490.3C573.1,489.5 572.8,488.4 573.3,487.5Z"/>
<path d="M595.3,507.1C595.8,505.7 596.8,504.4 598.1,503.4C599.3,502.4 601.2,501.6 602.7,501.0C604.3,500.4 605.8,499.8 607.4,499.8C609.0,499.8 610.8,500.2 612.1,501.0C613.3,501.9 614.5,503.4 614.9,504.8C615.3,506.1 615.0,507.9 614.4,509.0C613.8,510.1 612.0,510.4 611.1,511.3C610.3,512.2 610.4,513.8 609.3,514.6C608.2,515.4 606.2,515.6 604.6,516.0C603.0,516.4 601.2,517.0 599.9,516.9C598.6,516.8 597.5,516.4 596.7,515.5C595.8,514.7 595.3,513.2 595.1,511.8C594.8,510.4 594.8,508.5 595.3,507.1Z"/>
<ellipse cx="631.9" cy="530.0" rx="0.9" ry="0.9"/>
<path d="M597.9,555.7C598.0,554.8 600.3,553.9 601.4,553.8C602.4,553.7 603.7,554.2 604.1,555.1C604.5,555.9 604.4,558.2 603.9,558.8C603.3,559.4 601.7,559.3 600.7,558.8C599.7,558.3 597.8,556.5 597.9,555.7Z"/>
<path d="M625.2,554.4C625.6,553.2 627.2,550.3 628.3,550.0C629.3,549.8 630.6,552.0 631.4,553.2C632.3,554.3 632.4,556.1 633.3,556.9C634.2,557.8 636.4,557.4 637.1,558.2C637.7,559.0 637.8,561.4 637.1,561.9C636.3,562.5 634.2,561.7 632.7,561.3C631.1,560.9 628.9,560.1 627.7,559.4C626.5,558.8 625.8,558.4 625.4,557.6C625.0,556.7 624.7,555.7 625.2,554.4Z"/>
<path d="M613.3,564.8C613.6,564.1 615.6,563.2 616.4,563.2C617.2,563.2 618.3,564.0 618.3,564.8C618.3,565.7 617.1,567.7 616.4,568.2C615.7,568.7 614.7,568.1 614.1,567.6C613.6,567.0 612.9,565.6 613.3,564.8Z"/>
<ellipse cx="632.4" cy="569.0" rx="3.8" ry="4.2"/>
<path d="M621.4,588.2C620.7,587.6 622.4,585.2 623.3,584.5C624.1,583.8 625.7,583.5 626.4,584.1C627.1,584.7 628.2,587.6 627.4,588.2C626.6,588.9 622.1,588.9 621.4,588.2Z"/>
<path d="M643.9,582.0C644.3,581.3 646.3,581.5 647.1,582.0C647.8,582.5 648.6,584.4 648.3,585.1C648.0,585.8 645.9,586.9 645.2,586.4C644.5,585.8 643.6,582.7 643.9,582.0Z"/>
<path d="M647.1,588.2C646.4,587.8 648.6,586.3 649.6,586.1C650.5,585.9 652.1,586.5 652.7,587.0C653.3,587.5 654.3,588.7 653.3,588.9C652.4,589.1 647.7,588.7 647.1,588.2Z"/>
<ellipse cx="631.9" cy="530.0" rx="1.1" ry="1.0"/>
<path d="M662.2,586.6L662.6,584.0L664.9,581.0L667.9,577.7L669.3,573.2L671.6,571.1L673.5,573.2L676.8,574.3L676.8,575.8L673.8,576.9L672.3,579.5L669.3,582.9L666.4,585.9L664.1,587.0Z"/>
<ellipse cx="659.5" cy="578.4" rx="0.6" ry="0.6"/>
<path d="M586.3,536.3C586.6,534.7 588.4,533.0 590.1,531.9C591.8,530.7 594.3,529.9 596.4,529.4C598.4,528.9 600.9,528.3 602.6,528.8C604.3,529.2 605.6,530.4 606.4,531.9C607.1,533.3 607.4,536.0 607.0,537.5C606.6,539.1 605.2,540.4 603.9,541.3C602.5,542.1 600.3,541.9 598.9,542.5C597.4,543.2 596.5,544.6 595.1,545.0C593.7,545.5 591.9,545.7 590.7,545.0C589.6,544.4 588.9,542.7 588.2,541.3C587.5,539.8 586.0,537.8 586.3,536.3Z"/>
<path d="M605.7,530.0C605.9,528.3 606.7,526.8 607.6,526.3C608.6,525.7 610.4,526.0 611.4,526.9C612.3,527.7 612.9,529.6 613.3,531.3C613.6,532.9 613.8,535.6 613.3,536.9C612.7,538.1 611.2,538.9 610.1,538.8C609.1,538.7 607.7,537.7 607.0,536.3C606.3,534.8 605.6,531.7 605.7,530.0Z"/>
</g>
<g fill="#696907" opacity="0.60">
<path d="M827.1,252.9L828.9,252.9L828.9,256.9L827.1,256.9Z"/>
<path d="M815.2,276.9L817.7,275.3L819.9,276.6L819.7,279.8L816.4,279.8Z"/>
<path d="M828.3,334.8C828.7,333.9 830.1,333.4 831.1,333.2C832.1,333.0 833.5,333.0 834.4,333.6C835.3,334.3 836.0,335.4 836.7,336.9C837.4,338.4 838.4,341.2 838.6,342.5C838.8,343.8 839.0,344.3 838.1,344.9C837.3,345.4 834.6,346.3 833.5,345.8C832.3,345.3 831.9,343.3 831.1,342.1C830.3,340.8 829.3,339.5 828.8,338.3C828.3,337.1 827.9,335.6 828.3,334.8Z"/>
<path d="M833.9,327.1L835.8,326.0L835.8,328.8Z"/>
<path d="M808.7,381.3C808.9,380.5 810.1,379.0 811.0,378.5C812.0,378.0 813.4,378.0 814.3,378.5C815.2,379.0 815.8,381.2 816.6,381.3C817.5,381.5 818.3,379.8 819.4,379.4C820.5,379.1 822.3,379.0 823.2,379.4C824.1,379.9 824.8,381.2 824.9,382.2C824.9,383.3 824.4,385.0 823.6,386.0C822.9,387.0 821.5,387.9 820.4,388.3C819.2,388.7 817.6,389.0 816.6,388.5C815.7,388.0 815.5,386.2 814.8,385.5C814.0,384.9 812.8,384.9 812.0,384.6C811.1,384.3 810.2,384.2 809.6,383.6C809.1,383.1 808.5,382.2 808.7,381.3Z"/>
<path d="M819.3,392.1C819.7,391.2 821.2,390.3 822.2,390.2C823.2,390.0 824.6,390.3 825.2,391.1C825.8,391.9 826.0,393.8 825.8,394.9C825.6,395.9 824.9,396.8 824.1,397.2C823.4,397.6 822.1,397.8 821.3,397.5C820.5,397.2 819.8,396.2 819.4,395.3C819.1,394.4 818.8,392.9 819.3,392.1Z"/>
<path d="M816.6,405.1C816.9,404.1 818.5,402.5 819.4,401.9C820.4,401.2 821.7,400.9 822.2,401.4C822.8,401.9 823.1,404.0 823.0,405.1C822.8,406.3 822.1,407.9 821.3,408.4C820.5,408.9 818.8,408.5 818.0,407.9C817.3,407.4 816.4,406.2 816.6,405.1Z"/>
<path d="M846.8,346.0L851.0,346.0L851.0,350.5L846.8,350.5Z"/>
</g>
<g fill="#ff6600" opacity="0.60">
<path d="M746.9,188.8L751.9,185.3L753.8,186.5L750.7,188.8Z"/>
<path d="M780.7,258.5L782.0,255.0L784.5,253.1L787.0,253.1L784.5,254.8L785.1,257.3L782.6,258.5Z"/>
<ellipse cx="725.6" cy="422.0" rx="5.3" ry="5.0"/>
<path d="M739.2,417.2L743.8,417.0L743.8,421.0L741.5,421.9L739.2,421.4Z"/>
<path d="M743.1,440.1C743.5,439.2 744.7,437.1 745.5,436.4C746.3,435.7 747.4,435.6 747.8,436.2C748.1,436.8 748.1,439.0 747.6,440.1C747.1,441.3 745.5,442.6 744.8,442.9C744.0,443.3 743.4,442.7 743.1,442.2C742.8,441.7 742.7,441.1 743.1,440.1Z"/>
<ellipse cx="866.3" cy="340.2" rx="3.6" ry="3.4"/>
<ellipse cx="849.3" cy="358.6" rx="2.6" ry="2.6"/>
<path d="M728.3,455.7C728.8,454.6 730.2,452.9 731.1,452.0C732.1,451.0 733.3,450.7 733.9,450.1C734.5,449.5 734.0,448.5 734.9,448.2C735.7,447.9 738.1,447.5 739.1,448.2C740.0,448.9 739.5,451.4 740.5,452.4C741.4,453.4 743.7,453.4 744.7,454.3C745.7,455.2 746.3,456.7 746.5,458.0C746.8,459.4 746.2,460.8 746.1,462.2C746.0,463.6 745.4,465.3 745.9,466.4C746.4,467.6 748.5,468.2 748.9,469.3C749.3,470.3 748.9,471.4 748.4,472.5C747.9,473.7 747.1,475.1 746.1,476.3C745.1,477.4 743.6,479.0 742.3,479.5C741.1,480.1 739.8,479.9 738.6,479.5C737.4,479.1 735.6,478.1 734.9,477.2C734.1,476.3 734.0,475.1 734.1,473.9C734.2,472.8 735.7,471.4 735.3,470.2C734.9,468.9 732.5,467.9 731.6,466.4C730.7,465.0 730.3,463.1 729.7,461.8C729.1,460.5 728.4,459.5 728.1,458.5C727.9,457.5 727.8,456.8 728.3,455.7Z"/>
<path fill-rule="evenodd" d="M699.1,474.4C699.5,473.3 700.4,471.6 701.4,471.0C702.4,470.4 703.9,470.3 705.1,470.6C706.4,471.0 707.9,472.2 708.9,473.1C709.9,474.0 710.7,476.3 711.1,476.0C711.6,475.7 711.3,472.4 711.6,471.3C712.0,470.1 711.8,469.4 713.3,469.0C714.7,468.6 718.4,468.5 720.2,469.0C721.9,469.5 722.9,471.0 723.9,472.3C725.0,473.5 726.0,474.7 726.4,476.3C726.9,477.9 727.0,480.4 726.7,481.9C726.3,483.4 725.0,483.6 724.5,485.0C724.1,486.5 724.4,489.2 723.9,490.7C723.4,492.1 722.7,493.2 721.4,493.8C720.2,494.4 718.1,494.6 716.4,494.4C714.7,494.2 713.1,493.3 711.4,492.5C709.7,491.8 707.6,491.3 706.4,490.0C705.1,488.8 704.7,486.7 703.9,485.0C703.0,483.4 702.2,481.3 701.4,480.0C700.6,478.8 699.5,478.5 699.1,477.5C698.7,476.6 698.7,475.5 699.1,474.4Z M714.1,480.0L715.8,479.1L718.9,479.1L718.6,481.0L715.1,481.9Z"/>
<ellipse cx="600.1" cy="409.5" rx="4.1" ry="4.6"/>
<ellipse cx="574.0" cy="422.0" rx="3.9" ry="4.1"/>
<path d="M595.4,457.6C595.7,456.5 596.6,455.4 597.6,455.1C598.6,454.8 600.5,455.1 601.4,455.7C602.2,456.3 602.6,457.6 602.6,458.8C602.7,460.1 602.3,462.3 601.6,463.2C600.9,464.1 599.2,464.4 598.2,464.1C597.3,463.8 596.2,462.4 595.7,461.3C595.2,460.2 595.0,458.6 595.4,457.6Z"/>
</g>
<g fill="#fc9400" opacity="0.60">
<path d="M919.0,144.4C919.5,143.9 922.1,143.8 923.4,144.0C924.6,144.2 925.8,144.8 926.5,145.6C927.2,146.4 928.2,148.3 927.7,148.8C927.3,149.2 925.2,148.8 924.0,148.5C922.7,148.2 921.1,147.6 920.2,146.9C919.4,146.2 918.5,144.9 919.0,144.4Z"/>
<ellipse cx="988.6" cy="124.8" rx="3.4" ry="2.8" transform="rotate(20 988.6 124.8)"/>
<ellipse cx="936.0" cy="164.2" rx="2.2" ry="2.2"/>
<path d="M755.0,299.1L766.3,299.4L769.8,301.1L769.8,302.4L766.3,301.6L755.0,300.5Z"/>
<path d="M776.1,306.1L778.8,306.1L777.6,307.9Z"/>
<path d="M776.0,311.2C776.4,310.7 777.0,310.7 777.4,311.0C777.8,311.3 777.7,312.4 778.3,313.1C778.9,313.7 780.5,314.2 781.1,315.0C781.7,315.7 782.1,316.9 782.1,317.8C782.1,318.6 781.9,319.5 781.1,320.1C780.3,320.6 778.2,320.5 777.4,321.0C776.5,321.6 776.3,322.4 776.0,323.4C775.7,324.3 776.1,325.9 775.5,326.6C774.9,327.4 773.1,328.0 772.2,328.0C771.3,328.0 770.5,327.6 770.1,326.6C769.7,325.7 769.7,323.4 770.1,322.4C770.5,321.5 772.2,321.9 772.7,321.0C773.2,320.2 772.5,318.5 772.9,317.3C773.3,316.1 774.5,315.0 775.0,314.0C775.6,313.0 775.6,311.7 776.0,311.2Z"/>
<path d="M776.0,306.1L778.8,306.1L777.4,307.9Z"/>
<path d="M767.1,337.4C768.3,336.0 771.8,333.1 773.2,332.2C774.6,331.4 774.3,331.6 775.5,332.2C776.7,332.9 778.6,335.0 780.2,336.0C781.7,337.0 783.8,337.4 784.9,338.3C785.9,339.3 785.6,340.7 786.3,341.6C786.9,342.5 788.3,342.4 788.6,343.9C788.9,345.5 788.3,348.9 788.1,350.9C788.0,353.0 787.9,354.6 787.9,356.1C787.9,357.6 788.3,358.6 788.1,359.8C787.9,361.1 787.3,363.2 786.7,363.6C786.2,363.9 785.3,363.4 784.9,362.1C784.4,360.9 784.2,357.8 783.9,356.1C783.7,354.4 784.1,352.7 783.5,351.9C782.8,351.0 781.5,351.6 780.2,350.9C778.9,350.2 776.9,348.8 775.5,347.7C774.1,346.5 772.9,344.9 771.8,343.9C770.7,342.9 769.9,342.1 769.0,341.6C768.0,341.0 766.5,341.4 766.2,340.7C765.9,340.0 765.9,338.8 767.1,337.4Z"/>
<path d="M751.2,354.7C751.9,353.4 755.0,353.0 756.4,351.9C757.7,350.8 758.4,348.7 759.2,348.1C759.9,347.6 760.8,347.4 761.0,348.6C761.3,349.8 760.9,353.3 760.7,355.6C760.6,357.9 759.9,360.4 760.1,362.1C760.3,363.9 761.3,365.0 762.0,366.4C762.6,367.7 763.6,368.8 763.8,370.1C764.1,371.4 764.0,373.4 763.4,374.3C762.7,375.2 761.3,375.8 760.1,375.7C758.8,375.6 757.2,374.7 755.9,373.8C754.6,373.0 752.5,371.9 752.1,370.6C751.8,369.2 753.6,367.3 754.0,365.9C754.5,364.5 755.3,363.2 755.0,362.1C754.6,361.1 752.8,360.6 752.1,359.3C751.5,358.1 750.5,355.9 751.2,354.7Z"/>
<path d="M773.2,358.4C773.5,357.4 774.5,356.2 775.5,355.6C776.5,355.1 778.2,355.0 779.3,355.1C780.3,355.3 781.3,355.9 782.1,356.5C782.8,357.2 783.2,358.3 783.9,358.9C784.6,359.5 786.0,359.6 786.3,360.3C786.6,361.0 786.5,362.5 785.8,363.1C785.1,363.7 783.1,363.7 782.1,364.0C781.0,364.3 780.3,365.0 779.3,365.0C778.2,365.0 776.9,364.6 776.0,364.0C775.0,363.5 774.1,362.6 773.6,361.7C773.2,360.7 772.9,359.4 773.2,358.4Z"/>
<path d="M781.1,370.1C781.6,368.9 782.9,368.5 783.9,368.2C784.9,368.0 786.5,368.2 787.2,368.7C787.9,369.2 788.3,369.9 788.1,371.0C788.0,372.1 787.0,374.2 786.3,375.2C785.5,376.2 784.3,377.1 783.5,377.1C782.6,377.1 781.5,376.4 781.1,375.2C780.7,374.1 780.7,371.3 781.1,370.1Z"/>
<path d="M768.0,374.3C768.1,373.3 768.9,372.1 769.4,371.5C770.0,370.9 770.8,370.1 771.3,370.6C771.9,371.0 772.2,373.1 772.7,374.3C773.2,375.5 774.1,377.0 774.1,378.0C774.1,379.0 773.3,380.0 772.7,380.4C772.2,380.8 771.5,380.8 770.8,380.4C770.2,379.9 769.4,378.6 769.0,377.6C768.5,376.6 768.0,375.3 768.0,374.3Z"/>
<path d="M757.9,380.8C758.3,380.1 759.3,379.0 760.1,378.5C760.9,378.0 762.1,377.6 762.9,377.6C763.7,377.5 764.1,377.3 764.8,378.0C765.4,378.8 766.6,380.9 766.6,382.2C766.7,383.6 765.9,385.2 765.2,386.0C764.6,386.7 763.8,386.8 762.9,386.6C762.0,386.5 760.4,385.6 759.6,385.0C758.8,384.5 758.5,383.9 758.2,383.2C757.9,382.5 757.6,381.6 757.9,380.8Z"/>
<path d="M758.2,394.4C758.5,393.6 759.4,392.3 760.1,392.1C760.8,391.8 762.0,392.4 762.4,393.0C762.9,393.6 763.1,395.0 762.9,395.8C762.7,396.6 761.7,397.5 761.0,397.7C760.3,397.8 759.2,397.3 758.7,396.7C758.2,396.2 758.0,395.2 758.2,394.4Z"/>
<ellipse cx="776.9" cy="382.9" rx="0.9" ry="0.9"/>
<ellipse cx="745.9" cy="379.5" rx="0.8" ry="0.6"/>
<ellipse cx="745.9" cy="379.3" rx="1.2" ry="0.8"/>
<ellipse cx="738.4" cy="367.6" rx="1.3" ry="1.4"/>
<path d="M758.3,393.9C758.6,393.2 759.5,392.2 760.2,392.0C760.9,391.9 762.3,392.2 762.7,392.9C763.1,393.6 763.1,395.4 762.7,396.2C762.4,397.0 761.4,397.9 760.7,397.9C759.9,397.9 758.7,396.9 758.3,396.2C757.9,395.5 758.0,394.6 758.3,393.9Z"/>
<path d="M553.1,473.9C553.4,472.6 554.2,470.5 555.0,469.5C555.9,468.5 557.1,467.8 558.2,467.8C559.2,467.8 560.9,468.6 561.5,469.5C562.2,470.4 562.5,472.0 562.3,473.2C562.0,474.5 560.5,475.9 560.0,477.0C559.6,478.0 560.1,479.0 559.4,479.5C558.7,480.0 556.6,480.3 555.7,479.9C554.7,479.4 553.9,478.0 553.5,477.0C553.1,476.0 552.9,475.1 553.1,473.9Z"/>
<path d="M574.2,526.7C574.5,525.6 575.2,525.5 576.1,525.3C577.0,525.2 578.2,526.1 579.4,525.8C580.5,525.5 581.9,524.0 583.1,523.5C584.3,522.9 585.6,522.5 586.8,522.5C588.1,522.5 589.7,522.9 590.6,523.5C591.4,524.0 592.1,525.0 592.0,525.8C591.9,526.6 590.8,527.3 590.1,528.1C589.4,529.0 588.6,530.7 587.8,530.9C586.9,531.2 585.8,529.7 585.0,529.5C584.1,529.4 583.3,529.5 582.6,530.0C582.0,530.5 582.1,532.0 581.2,532.5C580.4,533.1 578.6,533.4 577.5,533.3C576.4,533.2 575.2,533.0 574.7,531.9C574.1,530.8 574.0,527.8 574.2,526.7Z"/>
<path d="M594.3,524.9C594.6,523.8 595.5,521.6 596.2,521.1C596.9,520.7 597.7,521.4 598.5,522.1C599.3,522.7 600.5,523.8 600.9,524.9C601.2,525.9 601.0,527.4 600.4,528.1C599.8,528.8 598.1,529.1 597.1,529.1C596.2,529.0 595.3,528.4 594.8,527.7C594.3,527.0 594.1,526.0 594.3,524.9Z"/>
<path d="M592.8,565.7C593.2,564.3 594.6,562.8 595.7,562.3C596.8,561.8 598.5,561.9 599.5,562.6C600.4,563.2 601.2,565.0 601.4,566.3C601.6,567.7 601.5,569.7 600.7,570.7C600.0,571.7 598.2,572.3 597.0,572.3C595.8,572.3 594.3,571.8 593.6,570.7C592.9,569.6 592.5,567.1 592.8,565.7Z"/>
<path d="M617.0,546.9C617.0,546.1 618.6,544.5 619.5,544.0C620.5,543.6 622.2,543.8 622.7,544.4C623.1,545.0 622.9,546.8 622.4,547.5C621.9,548.3 620.4,549.1 619.5,549.0C618.6,548.9 617.0,547.8 617.0,546.9Z"/>
<path d="M579.1,538.1C579.3,536.8 580.7,536.2 582.0,535.6C583.2,535.1 585.2,534.7 586.3,535.0C587.5,535.3 588.5,536.4 588.8,537.5C589.2,538.7 588.9,540.7 588.2,541.9C587.5,543.2 585.7,544.7 584.5,545.0C583.2,545.4 581.6,544.9 580.7,543.8C579.8,542.6 578.9,539.5 579.1,538.1Z"/>
</g>
<g fill="#910000" opacity="0.60">
<path d="M891.3,116.6C891.3,115.8 892.6,114.4 893.2,113.2C893.8,112.0 893.9,110.6 895.1,109.5C896.2,108.3 898.4,107.1 900.1,106.3C901.8,105.6 903.3,105.3 905.1,105.1C906.9,104.9 909.3,105.0 910.7,105.3C912.2,105.7 912.6,107.0 913.9,107.3C915.1,107.7 916.4,107.1 918.3,107.3C920.1,107.6 923.5,108.4 925.1,108.8C926.8,109.3 926.2,109.3 928.3,110.1C930.4,110.9 935.9,112.7 937.7,113.9C939.4,115.0 939.1,116.1 938.9,117.0C938.7,117.8 938.2,118.9 936.4,118.9C934.6,118.9 930.5,117.0 928.3,117.0C926.1,117.0 924.6,118.4 923.3,118.9C921.9,119.3 921.5,120.3 920.1,119.9C918.8,119.4 916.6,117.4 915.1,116.4C913.7,115.4 912.7,114.6 911.4,113.9C910.0,113.1 908.4,112.1 907.0,111.6C905.5,111.1 904.1,110.6 902.6,110.7C901.1,110.9 899.4,111.9 898.2,112.6C897.1,113.3 896.5,114.2 895.7,115.1C894.9,116.0 893.9,117.6 893.2,117.9C892.5,118.1 891.3,117.4 891.3,116.6Z"/>
<path d="M888.2,125.1C888.3,123.8 891.6,121.4 893.2,120.1C894.8,118.9 896.6,117.0 897.6,117.6C898.5,118.2 898.9,122.2 898.8,123.9C898.7,125.5 898.0,126.9 897.0,127.6C895.9,128.4 894.0,128.7 892.6,128.3C891.1,127.8 888.1,126.5 888.2,125.1Z"/>
<path d="M869.4,135.8C870.0,134.5 873.4,132.5 875.0,131.4C876.7,130.2 879.1,128.6 879.4,128.9C879.7,129.2 877.8,131.7 876.9,133.3C876.1,134.8 875.3,137.3 874.4,138.3C873.5,139.3 872.4,139.6 871.5,139.1C870.7,138.7 868.8,137.1 869.4,135.8Z"/>
<ellipse cx="882.9" cy="127.8" rx="0.9" ry="0.8"/>
<ellipse cx="942.0" cy="126.4" rx="4.7" ry="4.4"/>
<ellipse cx="950.5" cy="78.5" rx="2.8" ry="1.5" transform="rotate(-15 950.5 78.5)"/>
<ellipse cx="1008.0" cy="74.9" rx="4.0" ry="3.9"/>
<path d="M1014.3,25.7C1013.7,24.3 1014.4,20.4 1014.9,18.8C1015.4,17.2 1016.6,16.2 1017.4,16.0C1018.2,15.8 1019.2,16.0 1019.7,17.5C1020.1,19.0 1020.2,23.5 1019.9,25.0C1019.6,26.6 1019.0,26.8 1018.0,26.9C1017.1,27.0 1014.8,27.0 1014.3,25.7Z"/>
<path d="M762.4,352.3C762.7,351.3 763.8,350.2 764.8,350.0C765.7,349.8 766.9,350.5 768.0,351.1C769.2,351.7 770.7,352.9 771.8,353.7C772.9,354.6 773.9,355.1 774.6,356.1C775.3,357.0 775.9,358.1 776.0,359.3C776.1,360.6 775.7,362.7 775.0,363.6C774.4,364.4 773.3,364.7 772.2,364.5C771.2,364.3 769.9,363.1 769.0,362.1C768.0,361.2 767.6,359.9 766.6,358.9C765.7,357.9 764.1,357.2 763.4,356.1C762.7,355.0 762.2,353.3 762.4,352.3Z"/>
<path d="M772.2,370.1C772.6,369.1 774.3,368.1 775.5,367.3C776.7,366.5 778.2,366.0 779.3,365.4C780.3,364.9 781.0,364.5 782.1,364.0C783.1,363.6 785.0,362.5 785.8,362.6C786.6,362.8 787.0,364.1 786.7,365.0C786.4,365.8 784.9,366.7 783.9,367.8C783.0,368.8 782.1,369.9 781.1,371.0C780.2,372.1 779.2,373.6 778.3,374.3C777.5,375.0 776.8,375.4 776.0,375.2C775.1,375.1 773.8,374.2 773.2,373.4C772.6,372.5 771.9,371.1 772.2,370.1Z"/>
<path d="M806.4,393.0C806.5,392.1 807.3,391.4 808.2,391.1C809.2,390.9 811.0,391.0 812.0,391.6C812.9,392.1 813.6,393.3 813.8,394.4C814.1,395.5 814.3,397.4 813.6,398.1C813.0,398.9 811.2,399.3 810.1,399.1C809.0,398.8 807.9,397.7 807.3,396.7C806.7,395.7 806.2,393.9 806.4,393.0Z"/>
<path d="M836.1,378.0C836.3,377.6 837.3,377.0 837.9,377.1C838.6,377.2 840.0,377.9 840.0,378.5C840.0,379.1 838.7,380.6 838.1,380.8C837.5,381.1 836.8,380.4 836.4,379.9C836.1,379.4 835.8,378.5 836.1,378.0Z"/>
<path d="M713.9,387.8C714.0,387.1 715.2,386.7 715.8,386.9C716.4,387.0 717.4,387.9 717.7,388.7C717.9,389.6 717.6,391.6 717.2,392.0C716.8,392.4 715.9,391.8 715.3,391.1C714.8,390.4 713.8,388.5 713.9,387.8Z"/>
<path d="M709.1,412.6L711.6,412.1L711.6,410.2L712.1,411.9L720.9,411.2L721.9,413.0L718.6,418.6L715.8,422.9L712.5,423.8L709.3,423.5Z"/>
<path d="M568.1,515.5C568.2,514.2 568.9,513.1 569.6,512.2C570.3,511.4 571.0,510.8 572.4,510.7C573.7,510.5 575.9,511.0 577.5,511.3C579.1,511.6 580.8,512.0 582.2,512.2C583.6,512.5 584.9,512.2 585.9,512.7C586.9,513.2 587.9,514.1 588.2,515.0C588.6,516.0 588.6,517.2 588.2,518.3C587.9,519.4 586.8,520.7 585.9,521.6C585.0,522.4 584.2,522.8 583.1,523.5C582.0,524.1 580.8,525.1 579.4,525.3C578.0,525.6 576.0,525.2 574.7,524.9C573.4,524.5 572.4,523.8 571.4,523.0C570.5,522.2 569.6,521.4 569.1,520.2C568.5,518.9 568.1,516.8 568.1,515.5Z"/>
<path d="M711.0,10.5L714.2,10.5L713.5,12.2L711.5,12.0Z"/>
</g>
<g fill="#ff0000" opacity="0.60">
<path d="M991.2,46.1C991.4,44.9 991.4,45.1 992.3,45.1C993.3,45.2 996.0,45.5 997.0,46.4C998.0,47.2 997.6,48.8 998.4,50.3C999.2,51.7 1001.1,53.1 1001.7,55.0C1002.2,56.8 1002.0,60.1 1001.7,61.5C1001.4,62.9 1001.2,63.2 999.8,63.6C998.4,63.9 994.4,64.6 993.3,63.8C992.1,63.0 993.0,60.0 993.1,58.7C993.2,57.4 994.0,57.0 993.7,55.9C993.4,54.8 991.6,53.8 991.2,52.1C990.8,50.5 991.0,47.2 991.2,46.1Z"/>
<path d="M961.9,36.3C962.1,35.8 963.3,34.4 964.2,33.8C965.1,33.2 966.4,32.7 967.3,32.8C968.2,32.9 969.0,33.6 969.8,34.4C970.6,35.2 972.2,37.2 972.1,37.6C972.0,38.0 970.2,37.3 969.2,36.9C968.2,36.6 967.1,35.7 966.1,35.7C965.0,35.7 963.6,36.8 962.9,36.9C962.2,37.0 961.7,36.8 961.9,36.3Z"/>
<path d="M984.2,33.8L986.7,36.3L986.7,38.8L984.2,38.6Z"/>
<ellipse cx="552.1" cy="538.5" rx="3.9" ry="3.7"/>
<path d="M570.7,546.9C570.8,545.9 571.9,545.6 572.8,545.7C573.8,545.8 575.5,546.7 576.3,547.5C577.2,548.4 577.9,549.7 577.8,550.7C577.7,551.6 576.6,553.0 575.7,553.2C574.8,553.4 573.1,553.0 572.3,551.9C571.5,550.9 570.6,548.0 570.7,546.9Z"/>
<path d="M556.9,560.7C557.1,559.6 557.8,559.0 558.8,558.8C559.7,558.6 561.8,558.6 562.5,559.4C563.3,560.3 563.4,562.7 563.2,563.8C563.0,564.9 562.2,565.8 561.3,566.1C560.4,566.3 558.3,566.2 557.5,565.3C556.8,564.4 556.7,561.8 556.9,560.7Z"/>
<ellipse cx="583.5" cy="567.6" rx="0.6" ry="0.6"/>
<path d="M590.7,577.6C590.9,576.6 592.1,575.9 593.2,575.7C594.4,575.5 596.7,575.7 597.6,576.3C598.5,577.0 599.0,578.3 598.9,579.5C598.8,580.6 597.7,582.3 597.0,583.2C596.3,584.2 595.3,585.3 594.5,585.1C593.6,584.9 592.6,583.2 592.0,582.0C591.3,580.7 590.5,578.6 590.7,577.6Z"/>
<ellipse cx="623.9" cy="564.8" rx="4.0" ry="3.8"/>
</g>
</g>
<g clip-path="url(#ax)">
<path class="st" d="M86.4,10.5 L187.2,19.1 L279.3,26.6"/>
<path class="st" d="M187.4,10.5 L187.2,19.1"/>
<path class="st" d="M279.3,26.6 L276.4,87.2 L272.4,158.0 L266.0,270.2"/>
<path class="st" d="M276.4,87.2 L430.8,93.9 L536.0,94.4 L592.6,94.4"/>
<path class="st" d="M34.5,252.2 L145.2,263.2 L217.4,268.2 L266.0,270.2 L390.7,277.7 L536.0,278.8 L630.0,279.0"/>
<path class="st" d="M217.4,268.2 L214.9,300.1"/>
<path class="st" d="M212.9,300.0 L363.9,307.7"/>
<path class="st" d="M212.9,300.0 L192.6,577.0"/>
<path class="st" d="M34.5,562.9 L192.6,577.0"/>
<path class="st" d="M363.9,307.7 L359.4,426.0"/>
<path class="st" d="M359.4,426.0 C359.7,426.1 360.1,426.4 361.0,426.6 C361.9,426.8 363.5,426.1 365.0,427.1 C366.5,428.1 368.3,430.7 370.0,432.5 C371.7,434.3 373.7,436.7 375.0,437.8 C376.3,438.9 376.8,438.8 377.6,439.0 C378.5,439.2 379.3,439.2 380.1,438.8 C380.9,438.4 381.2,436.8 382.6,436.9 C384.1,437.0 387.6,439.4 388.8,439.7 C390.1,440.0 389.9,439.3 390.1,438.5 C390.3,437.7 389.8,435.7 390.1,435.0 C390.4,434.3 391.5,434.1 392.0,434.4 C392.5,434.6 392.4,435.9 393.2,436.5 C394.0,437.1 396.3,437.5 397.0,438.2 C397.7,438.9 397.1,440.0 397.6,440.7 C398.1,441.4 399.8,441.4 400.1,442.6 C400.4,443.9 399.4,446.9 399.5,448.2 C399.6,449.4 399.3,449.6 400.7,450.1 C402.1,450.6 405.8,451.4 407.6,451.3 C409.4,451.2 409.9,449.4 411.4,449.8 C412.9,450.2 414.5,452.7 416.4,453.6 C418.3,454.5 420.3,455.2 422.6,455.3 C424.9,455.4 428.2,453.6 430.1,454.1 C432.0,454.6 432.8,457.2 433.9,458.2 C435.0,459.2 436.1,460.0 437.0,460.1 C437.9,460.2 438.6,459.5 439.5,458.8 C440.4,458.1 440.6,456.1 442.7,455.7 C444.8,455.3 449.9,456.7 452.1,456.6 C454.4,456.5 455.5,454.0 456.2,455.1 C456.9,456.2 455.2,461.5 456.4,463.2 C457.6,464.9 462.2,463.8 463.3,465.3 C464.4,466.8 462.1,470.7 462.7,472.0 C463.3,473.3 465.8,473.2 467.1,473.2 C468.5,473.2 469.7,472.7 470.8,472.0 C471.9,471.3 472.7,469.8 473.8,468.8 C474.9,467.8 476.2,466.4 477.5,466.1 C478.8,465.8 480.5,466.1 481.3,466.9 C482.1,467.7 481.6,470.0 482.5,470.7 C483.4,471.4 485.8,470.5 486.9,471.3 C488.0,472.1 488.5,474.7 489.4,475.3 C490.3,475.9 491.4,475.5 492.5,475.1 C493.6,474.8 494.8,473.8 495.7,473.2 C496.6,472.6 497.3,471.5 498.2,471.3 C499.1,471.1 500.8,470.9 501.3,472.0 C501.8,473.1 500.9,476.6 501.3,478.2 C501.7,479.8 502.9,480.9 503.8,481.3 C504.7,481.7 506.2,481.6 506.9,480.7 C507.6,479.8 507.3,477.0 508.2,475.7 C509.1,474.4 511.3,474.0 512.0,472.6 C512.7,471.2 511.8,468.6 512.6,467.6 C513.4,466.7 516.1,466.5 517.0,466.9 C517.9,467.3 517.5,469.2 518.2,470.1 C518.9,471.1 520.1,471.9 521.3,472.6 C522.4,473.3 523.8,474.0 525.1,474.1 C526.4,474.2 527.8,473.4 528.9,473.2 C530.0,472.9 531.2,472.2 532.0,472.6 C532.8,473.0 533.0,474.4 533.9,475.3 C534.8,476.2 536.2,477.7 537.6,478.2 C539.0,478.7 540.5,477.2 542.0,478.2 C543.5,479.1 545.4,483.6 546.4,483.9 C547.4,484.2 547.0,480.8 548.3,480.1 C549.5,479.4 552.5,480.2 553.9,479.5 C555.2,478.8 554.4,477.1 556.4,475.7 C558.4,474.3 563.4,471.5 565.8,471.3 C568.2,471.1 569.2,474.4 570.8,474.5 C572.4,474.6 573.0,473.1 575.2,472.0 C577.4,470.9 581.9,468.2 584.0,468.2 C586.1,468.2 586.1,471.2 587.7,472.0 C589.3,472.8 592.1,473.0 593.4,473.2 C594.7,473.4 594.5,473.6 595.6,473.2 C596.7,472.8 598.9,471.8 600.0,470.7 C601.1,469.6 601.5,467.3 602.5,466.9 C603.5,466.5 604.1,467.1 606.3,468.2 C608.5,469.2 613.1,471.3 615.7,473.2 C618.3,475.1 619.9,478.3 621.9,479.8 C623.9,481.3 625.1,481.2 627.6,482.0 C630.1,482.8 634.7,483.9 637.0,484.5 C639.3,485.1 639.9,484.8 641.3,485.7 C642.6,486.6 644.0,489.2 645.1,490.1 C646.2,491.0 647.3,491.3 648.2,491.1 C649.1,490.9 649.6,489.2 650.7,488.8 C651.9,488.4 653.8,488.4 655.1,488.6 C656.4,488.8 657.0,489.9 658.3,490.1 C659.5,490.4 661.5,489.9 662.6,490.1 C663.7,490.3 664.4,491.1 664.8,491.3"/>
<path class="st" d="M664.8,490.6 L665.4,524.2 L667.1,588.5"/>
<path class="st" d="M627.0,146.1 L630.7,309.5 L631.2,316.0 L635.0,341.0 L640.7,373.6 L641.2,474.0 L641.3,485.7"/>
<path class="st" d="M561.9,10.5 L566.3,13.8 L563.8,17.8 L565.0,24.0 L566.5,32.8 L568.6,40.3 L568.2,46.6 L566.0,50.1 L568.2,52.8 L570.7,54.1 L571.1,58.1 L571.6,61.9 L574.4,62.9 L575.7,66.6 L577.3,69.1 L577.6,74.1 L576.6,76.0 L580.1,76.0 L583.2,79.5 L586.2,80.5 L585.3,83.1 L589.1,88.1 L588.2,91.9 L591.3,92.5 L592.6,94.4 L598.9,100.4 L603.2,102.8 L605.4,102.3 L607.6,100.0 L610.1,100.0 L611.4,103.2 L614.1,105.4 L614.1,110.9 L610.1,111.1 L607.0,115.7 L605.1,120.7 L603.0,121.7 L605.7,127.0 L609.5,130.1 L613.3,132.6 L612.6,135.7 L616.6,140.7 L617.4,143.3 L622.0,144.9 L624.5,144.9 L627.0,146.1"/>
<path class="st" d="M571.1,58.1 L653.5,57.8 L759.5,50.2 L761.9,54.1 L766.9,58.1 L771.3,62.2 L773.2,65.1"/>
<path class="st" d="M787.0,10.5 L790.1,14.6 L794.5,17.8 L795.1,22.8 L793.9,30.3 L789.5,35.3 L789.2,40.9 L787.6,46.0 L780.1,48.8 L775.1,53.5 L776.3,55.3 L778.2,57.9 L777.3,64.1 L774.4,65.1 L772.8,66.6 L771.9,71.6 L772.1,77.0 L771.9,81.3 L773.5,87.5 L776.5,93.2 L776.0,96.9 L778.8,100.0 L780.0,105.1 L785.0,109.4 L790.1,113.6 L793.8,115.7 L796.3,120.7 L801.3,123.2 L806.3,125.7 L810.1,128.9 L812.0,133.2 L813.9,140.1 L814.4,145.6 L816.3,150.6 L818.8,153.8 L821.9,154.4 L824.4,150.6 L826.9,148.8 L836.3,151.3 L843.2,155.7 L839.8,163.8 L840.7,169.4 L832.8,187.0 L833.8,193.9 L846.3,205.7 L851.3,208.6 L855.1,208.6 L854.8,213.2 L857.3,214.0 L860.0,211.9 L863.2,214.4 L866.9,216.3 L870.1,221.0 L876.9,224.0 L877.6,231.3 L883.2,241.6 L882.0,245.1 L879.4,248.2 L879.8,250.1 L882.0,253.2 L887.0,260.7 L887.6,263.2 L892.0,265.7 L893.9,263.9 L891.3,262.0 L892.3,260.1 L894.5,262.6 L895.7,265.4 L897.6,266.4"/>
<path class="st" d="M897.6,266.4 C897.5,265.6 896.7,263.9 897.0,262.0 C897.3,260.1 898.6,257.9 899.5,256.3 C900.4,254.7 900.9,254.2 902.0,253.2 C903.1,252.2 904.0,251.2 905.7,250.7 C907.4,250.2 908.8,250.0 911.4,250.7 C914.0,251.4 917.0,253.0 920.1,254.5 C923.2,256.0 926.1,258.5 928.3,259.1 C930.5,259.7 931.0,258.7 932.0,257.6 C933.0,256.5 934.2,255.1 933.9,253.2 C933.6,251.3 931.2,248.9 930.2,247.0 C929.2,245.1 928.4,244.2 928.3,242.6 C928.2,241.0 928.3,239.2 929.5,238.2 C930.7,237.2 932.7,237.8 934.6,236.9 C936.5,236.0 937.0,234.3 939.6,233.2 C942.2,232.1 947.5,231.9 949.0,230.7 C950.5,229.5 948.5,228.4 947.7,226.9 C946.9,225.4 945.3,223.8 944.6,222.5 C943.9,221.2 943.6,221.3 943.9,220.0 C944.2,218.7 945.6,217.1 946.5,215.6 C947.4,214.1 949.0,212.9 949.0,211.9 C949.0,210.9 946.7,211.3 946.5,210.0 C946.3,208.7 948.1,205.8 947.7,205.0 C947.3,204.2 944.3,205.1 944.4,205.7 C944.5,206.3 947.2,207.2 948.2,208.2 C949.2,209.2 949.2,210.7 950.1,211.4 C951.0,212.1 952.4,212.5 953.2,212.0 C954.0,211.5 954.4,210.2 954.4,208.9 C954.4,207.6 953.1,206.3 953.2,205.1 C953.3,203.9 953.8,202.6 955.1,202.6 C956.4,202.6 958.3,204.9 960.1,205.1 C961.9,205.3 963.8,203.3 964.8,203.6 C965.8,203.9 965.2,206.2 965.7,207.0 C966.2,207.8 966.8,208.4 967.6,208.2 C968.4,208.0 969.8,207.4 970.1,206.1 C970.4,204.8 969.8,202.5 969.5,201.3 C969.2,200.1 968.1,200.1 968.2,199.5 C968.3,198.9 969.6,197.9 970.1,198.2 C970.6,198.5 970.0,200.7 970.7,201.3 C971.4,201.9 972.6,201.6 973.9,201.3 C975.2,201.0 974.3,198.7 977.6,199.5 C980.9,200.3 989.1,204.2 992.0,205.7 C994.9,207.2 992.9,208.0 993.6,207.9 C994.3,207.8 995.2,206.6 995.8,205.1 C996.4,203.6 995.9,200.9 997.0,199.5 C998.1,198.1 1000.3,198.6 1002.0,197.6 C1003.7,196.6 1004.7,193.6 1006.2,193.8 C1007.7,194.0 1009.0,197.7 1010.4,198.6 C1011.8,199.5 1012.8,198.2 1013.9,198.8 C1015.0,199.4 1015.4,201.4 1016.2,201.6 C1017.0,201.8 1018.0,201.0 1018.3,200.1 C1018.6,199.2 1017.0,197.6 1017.7,196.6 C1018.4,195.6 1021.5,195.9 1022.1,194.5 C1022.7,193.1 1020.3,190.2 1020.8,188.8 C1021.3,187.4 1024.3,187.9 1024.6,186.9 C1024.9,185.9 1022.4,184.4 1022.7,183.6 C1023.0,182.8 1025.8,183.6 1026.5,182.8 C1027.2,182.0 1025.7,179.7 1026.5,179.4 C1027.3,179.1 1029.7,180.5 1030.8,181.3 C1031.9,182.1 1032.2,183.5 1032.5,184.0"/>
<path class="st" d="M954.0,10.5 L963.8,113.2"/>
<path class="st" d="M963.8,113.2 C963.0,113.9 960.2,115.2 959.8,116.9 C959.4,118.6 962.2,119.8 962.0,121.9 C961.8,124.0 958.7,125.6 958.8,127.6 C958.9,129.6 961.1,129.9 962.6,132.0 C964.1,134.1 965.6,136.0 966.3,138.2 C967.0,140.4 965.6,140.7 966.1,143.2 C966.6,145.7 968.4,148.6 968.8,150.7 C969.2,152.8 969.1,152.6 968.2,153.8 C967.3,155.0 965.6,155.0 964.5,156.9 C963.4,158.8 962.7,161.2 962.6,163.1 C962.5,165.0 964.4,165.0 963.8,166.3 C963.2,167.6 961.0,167.3 959.4,169.4 C957.8,171.5 956.7,174.8 955.7,176.9 C954.7,179.0 955.4,179.3 954.4,180.1 C953.4,180.9 951.8,179.7 950.7,180.7 C949.6,181.7 948.9,183.4 949.1,185.1 C949.3,186.8 952.2,187.8 951.9,189.4 C951.6,191.0 948.2,192.3 947.8,193.2 C947.4,194.1 950.0,193.3 950.0,193.8 C950.0,194.3 948.0,193.4 947.6,195.7 C947.2,198.0 947.8,203.2 947.8,205.1"/>
<path class="st" d="M897.6,266.4 C898.6,266.6 899.4,265.3 900.7,267.0 C902.0,268.7 902.4,268.4 901.4,271.4 C900.4,274.4 897.6,273.7 897.6,276.1 C897.6,278.5 901.4,276.9 901.4,278.6 C901.4,280.3 898.2,278.4 897.6,281.1 C897.0,283.8 899.5,283.4 899.5,286.8 C899.5,290.2 899.1,289.5 897.6,291.2 C896.1,292.9 897.2,292.6 895.1,291.8 C893.0,291.0 893.5,289.5 891.4,288.7 C889.3,287.9 890.2,286.4 888.9,289.3 C887.6,292.2 888.9,293.9 887.6,297.4 C886.3,300.9 886.6,299.7 885.1,299.9 C883.6,300.1 883.4,299.8 883.2,298.1 C883.0,296.4 884.9,296.6 884.5,294.9 C884.1,293.2 883.6,293.0 882.0,293.0 C880.4,293.0 880.2,293.4 879.8,294.9 C879.4,296.4 879.6,295.9 880.7,297.4 C881.8,298.9 882.1,297.4 883.2,299.3 C884.3,301.2 884.5,299.8 883.9,303.1 C883.3,306.4 883.0,307.0 881.3,309.3 C879.6,311.6 878.4,308.9 878.8,310.0 C879.2,311.1 883.6,310.8 882.6,312.5 C881.6,314.2 876.3,312.5 875.7,315.0 C875.1,317.5 879.9,317.3 880.7,320.0 C881.5,322.7 880.1,320.2 878.2,323.1 C876.3,326.0 874.9,325.2 875.1,328.7 C875.3,332.2 879.2,331.2 878.8,333.7 C878.4,336.2 874.4,334.4 873.8,336.3 C873.2,338.2 877.4,337.1 877.0,339.4 C876.6,341.7 876.6,341.0 872.6,343.1 C868.6,345.2 867.4,343.7 865.1,345.6 C862.8,347.5 864.1,346.9 865.8,348.8 C867.5,350.7 870.4,349.4 870.2,351.3 C870.0,353.2 866.2,352.3 865.1,354.4 C864.0,356.5 868.0,356.0 867.0,357.5 C866.0,359.0 863.9,357.3 862.0,358.8 C860.1,360.3 860.8,360.0 861.4,361.9 C862.0,363.8 864.1,362.9 863.9,364.4 C863.7,365.9 862.9,366.7 860.8,366.3 C858.7,365.9 859.5,363.0 857.6,363.2 C855.7,363.4 854.9,365.0 855.1,366.9 C855.3,368.8 857.5,366.9 858.3,368.8 C859.1,370.7 858.7,370.7 857.6,372.6 C856.5,374.5 854.0,372.7 855.1,374.4 C856.2,376.1 858.7,375.1 860.8,377.6 C862.9,380.1 861.8,379.9 861.4,382.0 C861.0,384.1 861.4,383.0 859.5,383.8 C857.6,384.6 857.6,382.6 855.7,384.5 C853.8,386.4 855.6,387.4 853.9,389.5 C852.2,391.6 851.1,389.0 850.7,390.7 C850.3,392.4 852.2,391.4 852.6,394.5 C853.0,397.6 854.5,397.4 852.0,400.1 C849.5,402.8 847.8,402.6 845.1,402.6 C842.4,402.6 844.9,400.3 843.9,400.1 C842.9,399.9 842.4,399.9 842.0,402.0 C841.6,404.1 843.4,404.7 842.6,406.4 C841.8,408.1 841.0,404.1 839.5,407.0 C838.0,409.9 837.6,412.4 838.2,415.1 C838.8,417.8 839.4,416.1 841.3,415.1 C843.2,414.1 843.7,414.5 843.9,412.0 C844.1,409.5 843.5,409.3 842.0,407.6 C840.5,405.9 840.8,404.5 839.5,407.0 C838.2,409.5 839.0,412.0 838.2,415.1 C837.4,418.2 835.9,414.5 837.0,416.3 C838.1,418.1 841.0,418.1 841.4,420.6 C841.8,423.1 839.0,421.1 838.2,423.8 C837.4,426.5 839.9,426.1 838.9,428.8 C837.9,431.5 836.6,429.6 835.1,431.9 C833.6,434.2 836.2,435.5 834.5,435.7 C832.8,435.9 831.4,432.1 830.1,432.5 C828.8,432.9 831.7,435.0 830.7,436.9 C829.7,438.8 828.0,436.7 827.0,438.2 C826.0,439.7 829.3,440.1 827.6,441.3 C825.9,442.5 822.2,440.4 822.0,441.9 C821.8,443.4 827.2,444.0 827.0,445.7 C826.8,447.4 821.9,445.0 821.3,446.9 C820.7,448.8 824.3,448.8 825.1,451.3 C825.9,453.8 825.5,453.2 823.8,454.5 C822.1,455.8 821.1,453.7 820.1,455.1 C819.1,456.5 822.6,458.6 820.7,458.8 C818.8,459.0 815.2,455.3 814.4,455.7 C813.6,456.1 817.4,457.0 818.2,460.1 C819.0,463.2 816.3,462.2 816.9,465.1 C817.5,468.0 821.1,467.6 820.1,468.9 C819.1,470.2 816.3,467.7 813.8,468.9 C811.3,470.1 811.3,470.5 812.6,472.6 C813.9,474.7 816.8,473.6 817.6,475.1 C818.4,476.6 817.2,477.4 815.1,477.0 C813.0,476.6 813.4,474.5 811.3,473.9 C809.2,473.3 808.6,473.0 808.8,475.1 C809.0,477.2 812.1,477.6 811.9,480.1 C811.7,482.6 808.0,480.9 808.2,482.6 C808.4,484.3 812.0,483.2 812.6,485.1 C813.2,487.0 811.4,486.2 810.1,488.3 C808.8,490.4 808.2,489.3 808.8,491.4 C809.4,493.5 809.1,494.5 812.0,494.5 C814.9,494.5 816.4,491.0 817.6,491.4 C818.8,491.8 817.2,494.6 815.7,495.8 C814.2,497.0 813.2,493.0 813.2,495.1 C813.2,497.2 813.8,500.1 815.7,502.0 C817.6,503.9 818.5,499.7 818.9,500.8 C819.3,501.9 817.4,502.5 817.0,505.2 C816.6,507.9 819.1,507.7 817.6,508.9 C816.1,510.1 814.5,508.1 812.6,508.9 C810.7,509.7 811.0,509.3 812.0,511.4 C813.0,513.5 815.3,512.9 815.7,515.2 C816.1,517.5 814.7,516.4 813.2,518.3 C811.7,520.2 811.7,519.1 811.3,520.8 C810.9,522.5 810.9,522.7 812.0,523.3 C813.1,523.9 813.3,523.9 814.5,522.7 C815.7,521.5 814.5,520.6 815.7,519.6 C816.9,518.6 817.6,517.7 818.2,519.6 C818.8,521.5 818.8,521.5 817.6,525.2 C816.4,528.9 814.5,527.9 814.5,530.8 C814.5,533.7 815.4,533.0 817.6,534.0 C819.8,535.0 820.9,532.8 821.1,533.8 C821.3,534.8 820.2,535.0 818.2,537.1 C816.2,539.2 815.5,538.1 815.1,540.2 C814.7,542.3 814.9,542.8 817.0,543.4 C819.1,544.0 819.1,542.9 821.4,542.1 C823.7,541.3 823.7,539.6 823.9,540.9 C824.1,542.2 823.7,543.0 822.0,545.9 C820.3,548.8 819.5,547.3 818.9,549.6 C818.3,551.9 818.2,552.6 820.1,552.8 C822.0,553.0 823.7,551.8 824.5,550.3 C825.3,548.8 822.2,547.1 822.6,548.4 C823.0,549.7 824.0,551.4 825.7,554.2 C827.4,557.0 825.9,554.9 827.6,556.9 C829.3,558.9 830.2,558.6 830.8,560.1 C831.4,561.6 831.0,561.3 829.5,561.3 C828.0,561.3 827.0,559.1 826.4,560.1 C825.8,561.1 828.9,562.7 827.6,564.4 C826.3,566.1 825.7,564.0 822.6,565.1 C819.5,566.2 819.9,565.7 818.2,567.6 C816.5,569.5 816.8,569.0 817.6,570.7 C818.4,572.4 818.2,572.6 820.7,572.6 C823.2,572.6 823.4,570.5 825.1,570.7 C826.8,570.9 826.5,571.1 825.7,573.2 C824.9,575.3 825.1,576.0 822.6,577.0 C820.1,578.0 818.0,575.5 818.2,576.3 C818.4,577.1 823.2,577.8 823.2,579.5 C823.2,581.2 820.7,579.4 818.2,581.3 C815.7,583.2 817.4,582.7 815.7,585.1 C814.0,587.5 814.0,587.4 813.2,588.5"/>
<path class="st" d="M630.7,309.5 L804.0,302.0 L851.9,299.3 L854.4,304.3 L856.9,308.1 L856.3,313.1 L850.0,318.1 L845.7,323.1 L842.5,331.9 L875.1,328.7"/>
<path class="st" d="M665.4,524.2 L813.2,517.9"/>
<path class="st" d="M887.6,297.4 L955.3,290.7 L956.3,287.0 L955.3,283.5 L953.4,280.1 L964.8,280.9 L1032.5,273.0"/>
<path class="st" d="M850.7,391.1 L956.9,382.9 L1032.5,376.4"/>
<path class="st" d="M956.9,383.2 L958.2,386.3 L963.2,389.1 L962.3,429.0 L961.5,474.0 L960.3,524.2 L959.0,574.5 L960.7,588.5"/>
<path class="lk" d="M289.5,10.6 L293.5,12.9 L297.0,13.6 L298.8,12.5 L297.7,11.1 L293.0,10.6Z"/>
<path class="lk" d="M269.8,366.0 L272.9,364.4 L274.6,358.7 L278.4,356.8 L278.8,354.2 L280.5,353.0 L280.7,351.6 L283.3,350.4 L286.2,352.3 L282.9,354.2 L281.0,355.1 L279.5,358.2 L278.1,360.4 L275.3,361.5 L274.3,364.9 L270.5,366.5Z"/>
<path class="lk" d="M688.1,427.3 L691.4,425.2 L689.5,422.8 L692.3,423.0 L694.7,420.9 L696.6,420.7 L696.6,423.7 L699.9,421.8 L704.6,421.4 L705.8,424.0 L700.4,427.1 L697.1,428.2 L696.4,426.6 L691.8,426.6 L689.5,428.2Z"/>
<path class="lk" d="M983.2,395.7 L991.4,390.1 L1002.4,390.3 L1004.5,393.2 L1008.3,392.3 L1012.7,395.1 L1019.5,397.3 L1025.4,404.5 L1011.4,398.2 L1010.1,395.1 L1005.1,396.6 L1000.1,393.2 L997.0,393.6 L990.1,392.0Z"/>
<path class="lk" d="M941.4,260.4 L953.4,280.3 L954.6,279.0 L943.9,260.9Z"/>
<path class="lk" d="M945.2,261.4 L948.4,258.2 L951.5,257.3 L955.3,258.6 L956.0,262.6 L958.5,267.7 L961.7,267.7 L959.1,271.5 L959.8,275.3 L962.9,280.3 L962.9,284.1 L961.0,279.7 L957.2,275.3 L956.0,270.2 L953.4,265.2 L952.2,260.7 L949.6,260.1 L948.4,262.6Z"/>
<path class="lk" d="M956.0,291.7 L954.7,296.8 L952.8,298.0 L952.8,303.1 L954.7,303.7 L955.1,306.9 L955.3,300.6 L957.2,296.1 L961.7,303.1 L964.2,310.7 L963.5,314.5 L959.8,318.9 L961.0,322.0 L959.8,324.6 L962.3,325.8 L961.8,321.5 L965.4,311.9 L962.9,303.1 L958.5,296.8Z"/>
<path class="lk" d="M528.9,462.6 L535.7,459.8 L533.9,465.1 L535.1,469.4 L532.3,472.4 L532.6,467.6 L530.1,464.4Z"/>
<path class="lk" d="M526.4,469.4 L531.9,469.4 L531.9,474.9 L526.4,474.9Z"/>
<path class="lk" d="M521.3,473.8 L523.2,479.5 L524.5,474.5Z"/>
<path class="lk" d="M688.3,427.3 L692.0,425.0 L696.5,423.5 L700.0,422.0 L705.0,421.6"/>
<path class="lk" d="M690.0,423.0 L693.0,424.0 L696.6,421.0 L696.6,426.5 L700.5,426.8 L705.6,424.0"/>
</g>
<rect x="263.5" y="14.5" width="540" height="25.8" fill="#fff" fill-opacity="0.68" stroke="#3a3a3a" stroke-width="0.9"/>
<g font-size="16.4" font-weight="bold" font-style="italic" fill="#000">
<text x="268.1" y="32" textLength="89.6" lengthAdjust="spacingAndGlyphs">Composite</text>
<text x="364.4" y="32" textLength="96.7" lengthAdjust="spacingAndGlyphs">Reflectivity</text>
<text x="467.8" y="32" textLength="20.8" lengthAdjust="spacingAndGlyphs">35</text>
<text x="494.5" y="32" textLength="33.3" lengthAdjust="spacingAndGlyphs">dBZ</text>
<text x="533.4" y="32" textLength="74.6" lengthAdjust="spacingAndGlyphs">Paintball</text>
<text x="615.3" y="32" textLength="47.7" lengthAdjust="spacingAndGlyphs">Valid:</text>
<text x="669.7" y="32" textLength="126.8" lengthAdjust="spacingAndGlyphs">201805260900</text>
</g>
<rect x="34.5" y="588.4" width="998" height="10.9" fill="#fdbf65" stroke="#000" stroke-width="1.1"/>
<path d="M34.5,599.3V593.5M533.5,599.3V593.5M1032.5,599.3V593.5" stroke="#000" stroke-width="0.7" fill="none"/>
<path d="M532.6,589V599" stroke="#f5a83c" stroke-width="0.7" fill="none"/>
<rect x="34.5" y="10.5" width="998" height="578" fill="none" stroke="#000" stroke-width="1.1"/>
<g font-size="17.8" fill="#000">
<text x="10.4" y="618.7" textLength="45.5" lengthAdjust="spacingAndGlyphs">34.99</text>
<text x="509.2" y="618.7" textLength="45.6" lengthAdjust="spacingAndGlyphs">69.99</text>
<text x="1003.8" y="618.7" textLength="57.0" lengthAdjust="spacingAndGlyphs">104.99</text>
</g>

</svg></body></html>
